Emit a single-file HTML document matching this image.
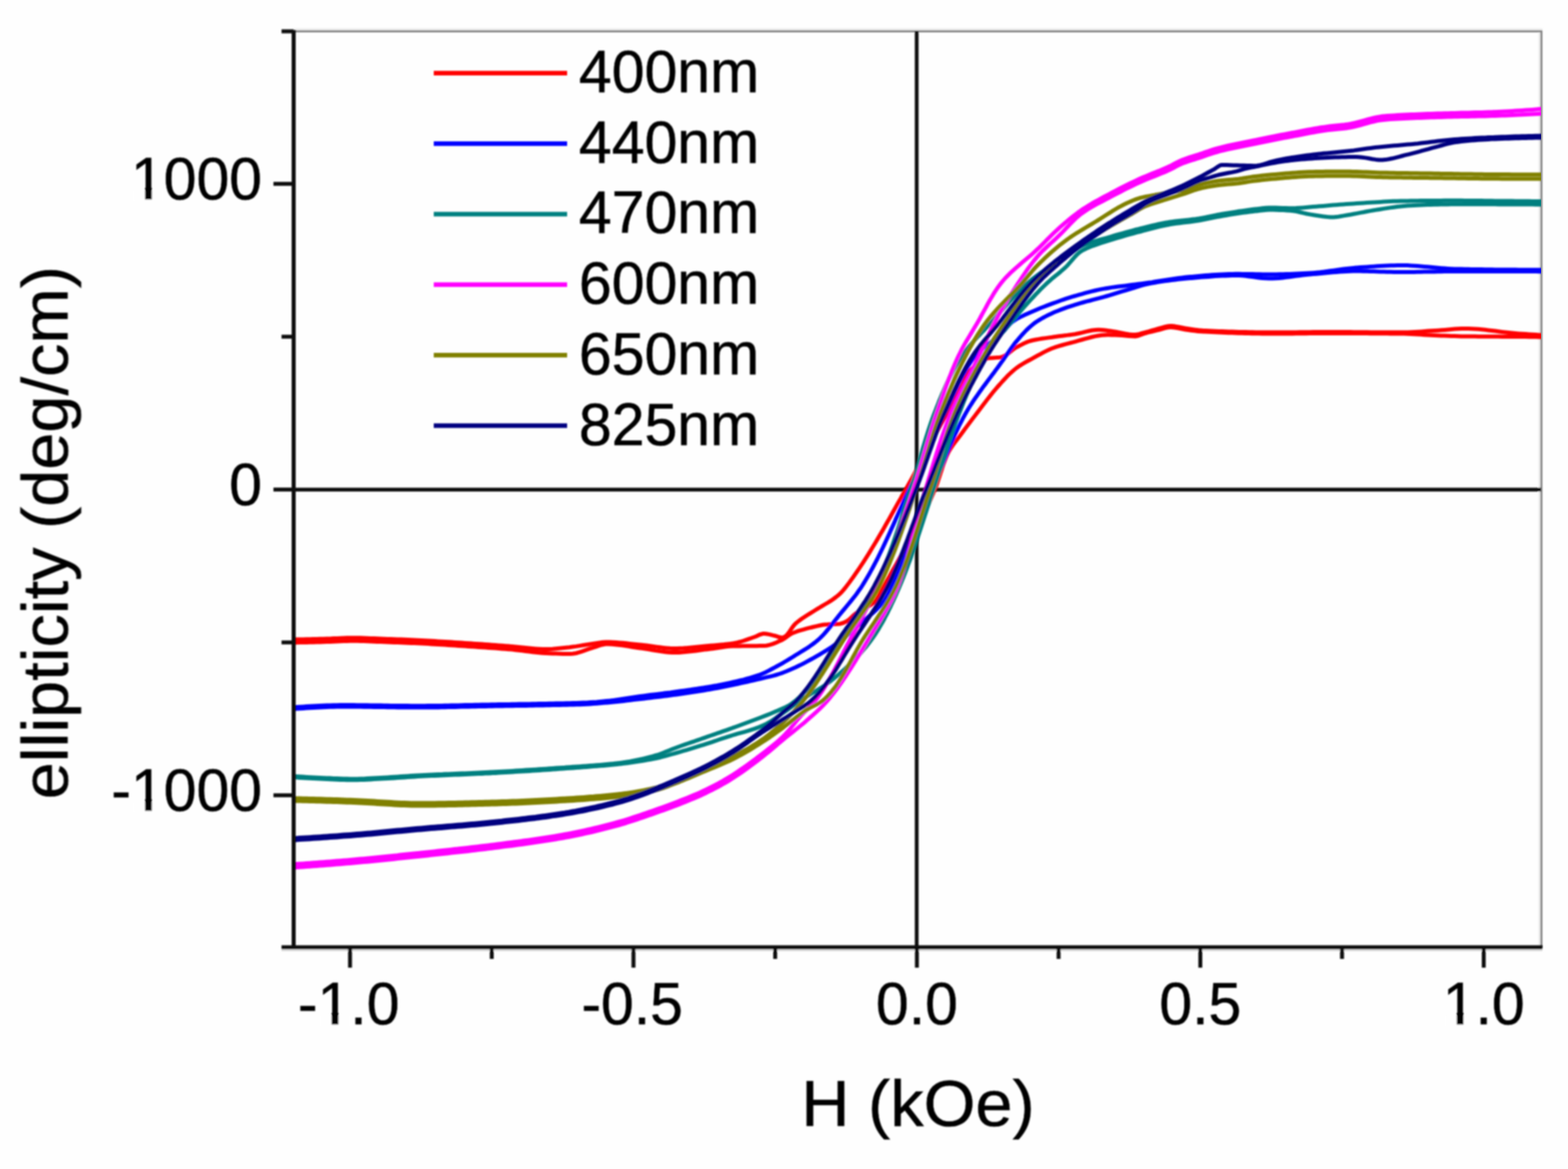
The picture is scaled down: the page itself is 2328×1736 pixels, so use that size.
<!DOCTYPE html>
<html lang="en">
<head>
<meta charset="utf-8">
<title>ellipticity vs H</title>
<style>
html,body{margin:0;padding:0;background:#fefefe;}
body{width:2328px;height:1736px;overflow:hidden;}
svg{display:block;}
text{font-family:"Liberation Sans",Arial,Helvetica,sans-serif;fill:#000;stroke:#000;stroke-width:0.7px;}
.tick{font-size:87.5px;}
.leg{font-size:87.5px;}
.ttl{font-size:99px;}
.crv{fill:none;stroke-width:6;stroke-linejoin:round;stroke-linecap:butt;}
</style>
</head>
<body>
<svg width="2328" height="1736" viewBox="0 0 2328 1736">
<rect x="0" y="0" width="2328" height="1736" fill="#fefefe"/>
<defs><clipPath id="plot"><rect x="436" y="46" width="1852" height="1361"/></clipPath>
<filter id="soft" x="-2%" y="-2%" width="104%" height="104%"><feGaussianBlur stdDeviation="0.9"/></filter></defs>

<g filter="url(#soft)">
<rect x="436" y="45" width="1854" height="3" fill="#808080"/>
<rect x="436" y="42" width="1854" height="3" fill="#ededed"/>
<rect x="2287" y="45" width="3" height="1362" fill="#808080"/>
<rect x="2284" y="48" width="3" height="1356" fill="#ededed"/>
<rect x="436" y="724.3" width="1852" height="5.6" fill="#0a0a0a"/>
<rect x="1358.2" y="46" width="5.6" height="1361" fill="#0a0a0a"/>
</g>
<g clip-path="url(#plot)" filter="url(#soft)">
<polyline class="crv" stroke="#ff0000" points="430.0,949.7 435.0,949.6 440.0,949.6 445.0,949.5 450.0,949.4 455.1,949.3 460.1,949.2 465.1,949.1 470.1,948.9 475.1,948.8 480.0,948.7 480.1,948.7 485.1,948.5 490.1,948.4 495.1,948.1 500.2,947.9 505.2,947.7 510.2,947.5 515.2,947.3 520.2,947.2 525.0,947.2 525.2,947.2 530.2,947.2 535.2,947.3 540.2,947.5 545.2,947.7 550.3,947.9 555.3,948.1 560.3,948.3 565.3,948.5 570.0,948.7 570.3,948.7 575.3,948.9 580.3,949.1 585.3,949.3 590.3,949.4 595.3,949.6 600.3,949.8 605.4,950.0 610.4,950.3 615.4,950.5 620.0,950.7 620.4,950.7 625.4,951.0 630.4,951.2 635.4,951.5 640.4,951.8 645.4,952.1 650.4,952.4 655.4,952.7 660.4,953.0 665.4,953.3 670.4,953.6 675.4,953.9 680.4,954.3 685.4,954.6 690.4,954.9 695.4,955.3 700.4,955.6 702.0,955.7 705.4,955.9 710.4,956.3 715.4,956.6 720.4,957.0 725.4,957.3 730.4,957.7 735.4,958.1 740.4,958.4 745.4,958.8 750.4,959.2 755.4,959.6 757.0,959.7 760.4,960.0 765.4,960.4 770.4,960.9 775.4,961.5 780.4,962.0 785.4,962.5 790.4,963.0 795.4,963.4 800.4,963.7 805.4,963.9 810.4,964.0 811.0,964.0 815.4,963.9 820.4,963.7 825.4,963.3 830.4,962.8 835.4,962.3 840.4,961.7 845.4,961.2 847.0,961.0 850.3,960.6 855.3,959.9 860.2,959.1 865.2,958.3 870.1,957.5 875.1,956.7 880.0,956.0 880.1,956.0 885.0,955.3 890.0,954.5 895.0,953.8 900.0,953.5 901.0,953.5 904.9,953.5 909.9,953.7 914.9,954.0 919.9,954.4 924.9,954.8 929.9,955.3 934.9,955.9 939.9,956.4 944.9,956.9 949.9,957.4 950.8,957.5 954.9,957.9 959.9,958.5 964.9,959.2 969.9,959.9 974.8,960.6 979.8,961.3 984.8,961.9 989.8,962.4 994.8,962.8 999.8,963.0 1001.7,963.0 1004.7,963.0 1009.7,962.8 1014.7,962.6 1019.7,962.2 1024.7,961.8 1029.7,961.3 1034.7,960.8 1039.7,960.3 1044.7,959.8 1049.7,959.3 1052.6,959.0 1054.7,958.8 1059.7,958.4 1064.7,958.0 1069.8,957.5 1074.8,957.1 1079.8,956.5 1084.7,955.9 1089.0,955.3 1089.6,955.2 1094.5,954.2 1099.3,953.0 1104.1,951.5 1108.9,949.8 1113.7,948.2 1118.4,946.5 1120.0,946.0 1123.2,944.7 1127.8,942.5 1132.6,941.1 1134.0,941.0 1137.4,941.2 1142.4,942.1 1147.3,943.4 1150.0,944.0 1152.3,944.6 1157.3,946.3 1161.0,947.0 1161.7,947.0 1165.6,945.4 1169.0,942.1 1172.3,937.7 1175.5,932.9 1178.9,928.4 1181.8,925.4 1182.6,924.8 1186.4,921.7 1190.5,918.8 1194.7,916.0 1198.9,913.3 1203.2,910.6 1207.5,908.0 1211.8,905.3 1214.5,903.6 1216.0,902.7 1220.3,900.1 1224.7,897.5 1229.0,895.0 1233.2,892.4 1236.0,890.5 1237.4,889.5 1241.4,886.5 1245.3,883.4 1247.0,881.8 1248.9,879.9 1252.2,876.2 1255.5,872.3 1258.5,868.3 1261.0,865.0 1261.5,864.3 1264.4,860.3 1267.3,856.2 1270.2,852.1 1273.0,848.0 1275.8,843.9 1278.6,839.7 1281.3,835.6 1284.0,831.4 1286.7,827.1 1289.4,822.9 1292.0,818.6 1294.6,814.3 1297.2,810.0 1299.8,805.7 1302.4,801.4 1304.9,797.1 1307.4,792.7 1310.0,788.4 1312.5,784.0 1315.0,779.6 1317.4,775.2 1319.9,770.9 1322.4,766.5 1324.9,762.1 1327.3,757.7 1329.8,753.3 1332.2,748.9 1334.7,744.5 1337.2,740.2 1339.6,735.8 1342.1,731.4 1344.6,727.1 1344.6,727.0 1347.0,722.7 1349.5,718.3 1351.9,714.0 1354.3,709.6 1356.7,705.2 1359.1,700.8 1361.5,696.3 1363.8,691.9 1366.2,687.5 1368.6,683.1 1370.9,678.6 1373.3,674.2 1375.6,669.8 1378.0,665.4 1380.3,660.9 1382.7,656.5 1385.0,652.1 1387.4,647.7 1389.8,643.2 1391.0,641.0 1392.2,638.8 1394.6,634.5 1397.0,630.1 1399.5,625.7 1402.0,621.3 1404.4,617.0 1406.9,612.6 1409.4,608.2 1411.8,603.8 1414.3,599.5 1416.7,595.1 1419.1,590.7 1421.4,586.3 1423.8,581.8 1426.0,577.4 1428.3,572.9 1429.0,571.4 1430.4,568.3 1432.3,563.6 1434.3,559.0 1436.0,556.0 1436.8,554.8 1439.8,550.9 1443.4,547.2 1447.2,543.7 1451.1,540.6 1452.0,540.0 1455.2,537.7 1459.6,534.9 1464.1,532.7 1467.0,532.0 1468.9,531.8 1473.9,531.4 1479.1,531.1 1484.1,530.7 1486.0,530.5 1488.6,529.8 1492.9,527.7 1497.1,524.7 1501.2,521.4 1505.3,518.1 1509.0,515.8 1509.6,515.5 1514.1,513.1 1518.6,510.8 1523.2,508.6 1527.8,506.8 1530.7,506.0 1532.6,505.5 1537.4,504.5 1542.3,503.6 1547.3,502.8 1552.3,502.1 1557.3,501.4 1562.3,500.7 1563.4,500.5 1567.2,500.0 1572.2,499.3 1577.2,498.7 1582.2,498.1 1587.1,497.4 1592.1,496.8 1596.0,496.2 1597.1,496.0 1602.0,495.0 1606.9,493.9 1611.8,492.6 1616.7,491.5 1621.7,490.5 1626.6,489.9 1630.5,489.7 1631.5,489.7 1636.5,490.0 1641.5,490.6 1646.5,491.2 1648.7,491.5 1651.5,491.9 1656.5,492.7 1661.4,493.7 1666.4,494.7 1671.4,495.6 1676.3,496.4 1681.2,496.9 1685.0,497.0 1686.2,497.0 1691.1,496.1 1696.0,494.7 1700.0,493.6 1700.8,493.4 1705.7,492.1 1710.5,490.7 1715.3,489.3 1720.0,488.0 1720.1,488.0 1725.0,486.6 1729.9,485.2 1734.8,484.2 1738.0,484.0 1739.7,484.0 1744.6,484.6 1749.6,485.5 1754.6,486.5 1759.5,487.4 1760.0,487.5 1764.5,488.2 1769.4,488.9 1774.4,489.6 1779.4,490.3 1784.4,490.7 1787.0,490.9 1789.4,491.0 1794.4,491.3 1799.4,491.5 1804.4,491.7 1809.4,491.9 1814.4,492.1 1819.4,492.3 1824.4,492.5 1829.4,492.6 1834.4,492.8 1839.4,492.9 1844.4,493.0 1849.5,493.1 1854.5,493.3 1859.5,493.3 1864.5,493.4 1869.5,493.5 1874.5,493.5 1879.6,493.6 1884.6,493.6 1889.6,493.6 1890.6,493.6 1894.6,493.6 1899.6,493.6 1904.6,493.6 1909.6,493.5 1914.7,493.5 1919.7,493.4 1924.7,493.4 1929.7,493.3 1934.7,493.3 1939.7,493.2 1944.7,493.2 1949.7,493.1 1954.8,493.1 1959.8,493.0 1964.8,493.0 1969.8,493.0 1972.4,493.0 1974.8,493.0 1979.8,493.0 1984.8,493.0 1989.8,493.0 1994.9,493.1 1999.9,493.1 2004.9,493.1 2009.9,493.2 2014.9,493.2 2019.9,493.2 2024.9,493.3 2029.9,493.3 2035.0,493.4 2040.0,493.4 2045.0,493.4 2050.0,493.5 2055.0,493.5 2060.0,493.5 2065.0,493.6 2070.0,493.6 2075.1,493.6 2080.1,493.6 2081.3,493.6 2085.1,493.6 2090.1,493.5 2095.1,493.3 2100.1,493.0 2105.1,492.7 2110.1,492.4 2115.1,492.0 2120.1,491.6 2125.1,491.3 2130.0,491.0 2130.1,491.0 2135.1,490.7 2140.1,490.3 2145.1,489.9 2150.1,489.4 2155.1,489.0 2160.1,488.6 2165.1,488.3 2170.1,488.1 2175.1,488.0 2176.6,488.0 2180.1,488.0 2185.1,488.2 2190.1,488.5 2195.1,488.8 2200.1,489.3 2205.1,489.8 2210.1,490.4 2215.1,491.0 2220.0,491.6 2225.0,492.3 2230.0,492.9 2235.0,493.5 2240.0,494.1 2245.0,494.6 2250.0,495.0 2250.0,495.0 2255.0,495.4 2260.0,495.7 2265.0,496.1 2270.0,496.5 2275.0,496.8 2280.0,497.1 2285.0,497.4 2290.0,497.7 2295.0,498.0"/>
<polyline class="crv" stroke="#ff0000" points="430.0,954.3 435.0,954.2 440.0,954.2 445.0,954.1 450.1,954.0 455.1,953.9 460.1,953.8 465.1,953.7 470.1,953.5 475.1,953.4 480.0,953.3 480.1,953.3 485.1,953.1 490.2,953.0 495.2,952.7 500.2,952.5 505.2,952.3 510.2,952.1 515.2,951.9 520.2,951.8 525.0,951.8 525.2,951.8 530.2,951.8 535.3,951.9 540.3,952.1 545.3,952.3 550.3,952.5 555.3,952.7 560.3,952.9 565.3,953.1 570.0,953.3 570.3,953.3 575.3,953.5 580.4,953.7 585.4,953.9 590.4,954.1 595.4,954.2 600.4,954.4 605.4,954.7 610.4,954.9 615.4,955.1 620.0,955.3 620.4,955.3 625.4,955.6 630.4,955.8 635.4,956.1 640.5,956.4 645.5,956.7 650.5,957.0 655.5,957.3 660.5,957.6 665.5,957.9 670.5,958.2 675.5,958.5 680.5,958.9 685.5,959.2 690.5,959.5 695.5,959.9 700.5,960.2 702.0,960.3 705.5,960.5 710.5,960.9 715.5,961.2 720.5,961.5 725.5,961.9 730.5,962.2 735.5,962.6 740.5,963.0 745.5,963.4 750.5,963.8 755.5,964.2 757.0,964.3 760.5,964.6 765.5,965.2 770.5,965.7 775.5,966.4 780.4,967.0 785.4,967.6 790.4,968.2 795.4,968.8 800.4,969.3 805.4,969.7 810.4,970.0 811.0,970.0 815.4,970.2 820.4,970.4 825.4,970.6 830.5,970.7 835.5,970.9 840.5,971.0 845.5,971.0 847.0,971.0 850.4,970.8 855.3,970.0 860.1,968.7 864.9,967.1 869.7,965.4 874.5,963.7 879.4,962.2 880.0,962.0 884.2,960.7 889.0,959.0 893.9,957.5 898.7,956.6 901.0,956.5 903.6,956.5 908.6,956.8 913.5,957.2 918.5,957.7 923.5,958.4 928.5,959.1 933.5,959.9 938.5,960.7 943.5,961.5 948.5,962.2 950.8,962.5 953.5,962.8 958.4,963.6 963.4,964.4 968.4,965.2 973.3,966.1 978.3,966.9 983.3,967.6 988.3,968.2 993.2,968.7 998.2,968.9 1001.7,969.0 1003.2,969.0 1008.2,968.9 1013.2,968.6 1018.2,968.1 1023.1,967.6 1028.1,967.0 1033.1,966.4 1038.1,965.7 1043.1,965.1 1048.1,964.4 1052.0,964.0 1053.1,963.9 1058.1,963.2 1063.0,962.5 1068.0,961.7 1073.0,961.0 1078.0,960.3 1082.9,959.8 1087.9,959.5 1089.0,959.5 1092.9,959.4 1098.0,959.4 1103.0,959.3 1108.1,959.3 1113.1,959.3 1118.2,959.2 1123.2,959.2 1128.1,959.1 1133.1,959.0 1134.0,959.0 1138.0,958.7 1142.9,957.6 1147.7,956.1 1152.5,954.2 1157.2,952.1 1161.0,950.4 1161.7,950.1 1165.9,947.4 1170.0,944.3 1174.2,941.5 1176.0,940.6 1178.6,939.5 1183.3,937.7 1188.1,936.2 1192.9,934.8 1197.8,933.4 1202.7,932.2 1203.6,932.0 1207.6,931.0 1212.5,929.8 1217.4,928.7 1222.3,927.8 1225.4,927.5 1227.3,927.4 1232.3,927.1 1237.4,927.0 1242.4,926.7 1247.0,926.4 1247.3,926.4 1252.1,925.0 1256.7,922.7 1258.0,922.0 1260.8,920.0 1264.5,916.5 1268.1,913.0 1269.0,912.3 1272.2,910.0 1276.6,907.4 1281.2,904.9 1285.8,902.4 1290.2,899.9 1294.3,897.2 1298.0,894.2 1299.4,892.7 1301.0,890.6 1303.6,886.4 1306.0,881.8 1308.3,877.2 1309.0,876.0 1310.8,872.8 1313.2,868.5 1315.7,864.1 1318.2,859.7 1320.7,855.4 1323.1,851.0 1325.6,846.6 1328.1,842.3 1330.6,837.9 1333.1,833.5 1335.6,829.1 1338.1,824.8 1340.6,820.4 1343.1,816.0 1345.5,811.6 1348.0,807.2 1350.4,802.8 1352.9,798.4 1355.3,794.0 1357.6,789.6 1360.0,785.2 1362.4,780.7 1364.7,776.3 1367.0,771.8 1369.3,767.4 1371.5,762.9 1373.7,758.4 1375.9,753.9 1378.0,749.4 1380.1,744.9 1382.2,740.3 1384.2,735.8 1386.2,731.2 1388.0,727.0 1388.2,726.6 1390.0,722.0 1391.7,717.2 1393.3,712.4 1394.9,707.6 1396.4,702.8 1398.0,698.0 1399.5,693.1 1401.1,688.4 1402.9,683.7 1404.7,679.1 1406.7,674.6 1407.8,672.3 1408.9,670.2 1411.4,666.0 1414.2,661.8 1417.2,657.7 1420.3,653.7 1423.3,649.7 1426.4,645.6 1426.8,645.0 1429.3,641.6 1432.3,637.5 1435.3,633.5 1438.3,629.5 1441.3,625.5 1444.3,621.5 1447.4,617.5 1450.4,613.5 1451.3,612.4 1453.5,609.5 1456.5,605.5 1459.5,601.5 1462.6,597.5 1465.6,593.5 1468.7,589.6 1471.8,585.6 1475.0,581.7 1478.2,577.9 1481.3,574.3 1481.4,574.1 1484.8,570.4 1488.1,566.6 1491.6,562.9 1495.0,559.2 1498.6,555.6 1502.3,552.2 1506.0,549.0 1508.5,547.0 1509.9,545.9 1514.0,543.1 1518.2,540.5 1522.6,537.9 1527.0,535.5 1531.5,533.1 1535.8,530.7 1535.9,530.7 1540.3,528.2 1544.7,525.8 1549.1,523.4 1553.6,521.1 1558.1,519.0 1562.7,517.1 1563.0,517.0 1567.4,515.4 1572.2,513.9 1577.0,512.5 1581.9,511.1 1586.7,509.8 1590.0,509.0 1591.6,508.6 1596.4,507.3 1601.3,505.9 1606.2,504.5 1611.1,503.1 1616.0,501.8 1620.9,500.5 1625.8,499.4 1630.7,498.5 1635.6,497.8 1640.6,497.4 1644.7,497.3 1645.5,497.3 1650.5,497.4 1655.6,497.6 1660.6,497.8 1665.0,498.0 1665.6,498.0 1670.6,498.4 1675.7,498.9 1680.7,499.3 1685.0,499.5 1685.6,499.5 1690.4,498.5 1695.2,496.7 1700.0,495.0 1700.0,495.0 1704.8,493.7 1709.7,492.5 1714.6,491.3 1719.4,490.1 1720.0,490.0 1724.3,488.8 1729.2,487.4 1734.1,486.3 1738.0,486.0 1739.0,486.0 1744.0,486.5 1748.9,487.4 1753.9,488.4 1758.8,489.3 1760.0,489.5 1763.8,490.0 1768.8,490.7 1773.8,491.3 1778.7,491.9 1783.7,492.3 1787.0,492.5 1788.7,492.6 1793.7,492.8 1798.7,493.1 1803.7,493.3 1808.7,493.5 1813.7,493.8 1818.7,494.0 1823.8,494.2 1828.8,494.3 1833.8,494.5 1838.8,494.7 1843.8,494.8 1848.8,495.0 1853.9,495.1 1858.9,495.2 1863.9,495.3 1868.9,495.3 1873.9,495.4 1878.9,495.5 1884.0,495.5 1889.0,495.5 1890.6,495.5 1894.0,495.5 1899.0,495.5 1904.0,495.5 1909.0,495.4 1914.0,495.4 1919.0,495.4 1924.1,495.3 1929.1,495.3 1934.1,495.2 1939.1,495.2 1944.1,495.1 1949.1,495.1 1954.1,495.1 1959.2,495.0 1964.2,495.0 1969.2,495.0 1972.4,495.0 1974.2,495.0 1979.2,495.0 1984.2,495.0 1989.2,495.0 1994.3,495.0 1999.3,495.0 2004.3,495.0 2009.3,495.1 2014.3,495.1 2019.3,495.1 2024.4,495.1 2029.4,495.1 2034.4,495.2 2039.4,495.2 2044.4,495.2 2049.4,495.2 2054.4,495.3 2059.4,495.3 2064.5,495.4 2069.5,495.4 2074.5,495.4 2079.5,495.5 2081.3,495.5 2084.5,495.5 2089.5,495.7 2094.5,495.9 2099.5,496.2 2104.5,496.5 2109.5,496.8 2114.5,497.2 2119.6,497.5 2124.6,497.7 2129.6,498.0 2130.0,498.0 2134.6,498.2 2139.6,498.4 2144.6,498.6 2149.6,498.8 2154.6,499.0 2159.6,499.1 2164.6,499.3 2169.7,499.4 2174.7,499.5 2176.6,499.5 2179.7,499.5 2184.7,499.6 2189.7,499.6 2194.7,499.7 2199.7,499.7 2204.8,499.7 2209.8,499.8 2214.8,499.8 2219.8,499.8 2224.8,499.8 2229.8,499.9 2234.8,499.9 2239.8,499.9 2244.9,500.0 2249.9,500.0 2250.0,500.0 2254.9,500.0 2259.9,500.1 2264.9,500.1 2269.9,500.2 2274.9,500.3 2280.0,500.3 2285.0,500.4 2290.0,500.4 2295.0,500.5"/>
<polyline class="crv" stroke="#0000ff" points="430.0,1050.8 435.0,1050.5 440.0,1050.1 445.0,1049.8 450.0,1049.5 455.0,1049.1 460.0,1048.8 465.0,1048.6 470.0,1048.3 475.1,1048.0 480.1,1047.8 485.1,1047.6 490.1,1047.4 495.1,1047.3 500.1,1047.2 505.1,1047.1 510.1,1047.1 511.7,1047.1 515.1,1047.1 520.1,1047.1 525.1,1047.1 530.1,1047.2 535.2,1047.2 540.2,1047.3 545.2,1047.3 550.2,1047.4 555.2,1047.5 560.2,1047.6 565.2,1047.6 570.2,1047.7 575.3,1047.8 580.3,1047.9 585.3,1047.9 590.3,1048.0 595.3,1048.0 600.3,1048.1 605.3,1048.1 610.3,1048.2 615.4,1048.2 620.4,1048.2 620.6,1048.2 625.4,1048.2 630.4,1048.2 635.4,1048.1 640.4,1048.1 645.4,1048.0 650.4,1048.0 655.4,1047.9 660.5,1047.8 665.5,1047.7 670.5,1047.6 675.5,1047.5 680.5,1047.4 685.5,1047.3 690.5,1047.1 695.5,1047.0 700.5,1046.9 705.6,1046.8 710.6,1046.7 715.6,1046.6 720.6,1046.5 725.6,1046.4 729.6,1046.3 730.6,1046.3 735.6,1046.2 740.6,1046.1 745.6,1046.0 750.7,1046.0 755.7,1045.9 760.7,1045.8 765.7,1045.7 770.7,1045.6 775.7,1045.5 780.7,1045.5 785.7,1045.4 790.7,1045.3 795.8,1045.2 800.0,1045.1 800.8,1045.1 805.8,1045.0 810.8,1044.9 815.8,1044.8 820.8,1044.7 825.8,1044.6 830.8,1044.5 835.9,1044.4 840.9,1044.3 845.9,1044.2 850.9,1044.1 855.9,1043.9 860.9,1043.8 865.8,1043.6 865.9,1043.6 870.9,1043.4 875.9,1043.1 880.9,1042.7 885.9,1042.4 890.9,1041.9 895.9,1041.5 900.0,1041.1 900.9,1041.0 905.9,1040.5 910.8,1039.9 915.8,1039.2 920.8,1038.5 925.7,1037.8 930.7,1037.0 935.6,1036.2 940.6,1035.5 945.6,1034.7 950.5,1034.0 950.8,1034.0 955.5,1033.4 960.5,1032.7 965.4,1032.1 970.4,1031.5 975.4,1030.9 980.4,1030.3 985.3,1029.6 990.3,1029.0 995.3,1028.4 1000.2,1027.7 1001.7,1027.5 1005.2,1027.0 1010.2,1026.3 1015.1,1025.7 1020.1,1025.0 1025.1,1024.3 1030.0,1023.5 1035.0,1022.8 1039.9,1022.0 1044.9,1021.3 1049.8,1020.4 1052.5,1020.0 1054.8,1019.6 1059.7,1018.7 1064.6,1017.9 1069.6,1016.9 1074.5,1016.0 1079.4,1015.0 1084.3,1013.9 1089.2,1012.8 1090.6,1012.5 1094.1,1011.7 1099.0,1010.5 1103.9,1009.3 1108.7,1008.0 1113.6,1006.7 1118.4,1005.2 1123.1,1003.7 1127.8,1002.1 1128.8,1001.7 1132.4,1000.2 1137.0,998.2 1141.5,995.9 1145.9,993.5 1150.4,991.1 1154.2,989.0 1154.8,988.7 1159.1,986.3 1163.5,983.8 1167.8,981.2 1172.1,978.6 1176.4,976.0 1180.0,973.7 1180.6,973.3 1184.9,970.7 1189.2,968.0 1193.5,965.4 1197.8,962.7 1202.0,959.9 1206.1,957.0 1210.1,954.0 1213.9,950.9 1214.5,950.4 1217.5,947.6 1221.0,944.2 1224.4,940.5 1227.6,936.7 1230.9,932.8 1234.0,928.8 1237.1,924.8 1240.2,920.8 1243.4,916.8 1246.5,912.9 1247.0,912.3 1249.7,909.0 1252.9,905.2 1256.1,901.3 1259.4,897.4 1262.6,893.5 1265.7,889.6 1268.9,885.7 1271.9,881.7 1274.8,877.6 1277.7,873.6 1280.0,870.0 1280.4,869.4 1283.0,865.2 1285.5,861.0 1288.0,856.7 1290.5,852.4 1292.9,848.1 1295.3,843.7 1297.7,839.3 1300.0,834.9 1302.3,830.5 1304.5,826.0 1306.7,821.5 1308.9,817.0 1311.1,812.5 1313.2,807.9 1315.4,803.3 1317.5,798.8 1319.6,794.2 1321.7,789.6 1323.7,785.0 1325.8,780.4 1327.9,775.8 1329.9,771.1 1332.0,766.5 1334.0,761.9 1336.1,757.3 1338.2,752.7 1340.2,748.1 1342.3,743.5 1344.4,739.0 1346.5,734.4 1348.7,729.8 1350.0,727.0 1350.8,725.3 1352.9,720.8 1355.1,716.2 1357.2,711.7 1359.3,707.1 1361.4,702.6 1363.4,698.0 1365.5,693.5 1367.6,688.9 1369.7,684.3 1371.7,679.8 1373.8,675.2 1375.9,670.6 1377.9,666.1 1380.0,661.5 1382.1,656.9 1384.2,652.4 1386.3,647.8 1388.4,643.3 1390.5,638.7 1392.7,634.2 1394.8,629.7 1397.0,625.2 1399.2,620.7 1401.0,617.0 1401.4,616.2 1403.6,611.7 1405.8,607.1 1407.9,602.5 1410.1,597.9 1412.2,593.2 1414.3,588.5 1416.5,583.9 1418.6,579.2 1420.8,574.6 1423.0,570.0 1425.3,565.5 1427.6,561.0 1429.9,556.5 1432.4,552.2 1434.8,547.9 1437.4,543.7 1440.1,539.6 1442.8,535.6 1445.7,531.7 1447.0,530.0 1448.6,528.0 1451.9,524.4 1455.4,521.0 1459.1,517.7 1463.0,514.5 1467.0,511.3 1471.0,508.1 1475.0,505.0 1479.0,501.8 1483.0,498.5 1486.7,495.2 1489.0,493.0 1490.3,491.7 1493.7,487.8 1497.0,483.9 1500.4,480.3 1503.5,477.6 1504.1,477.2 1508.2,474.5 1512.5,472.0 1517.0,469.7 1521.6,467.6 1526.3,465.5 1530.7,463.5 1530.9,463.4 1535.5,461.4 1540.1,459.4 1544.7,457.5 1549.4,455.7 1554.1,453.9 1558.8,452.1 1563.4,450.4 1563.5,450.4 1568.2,448.7 1572.9,447.0 1577.6,445.3 1582.4,443.7 1587.2,442.2 1591.9,440.7 1596.0,439.5 1596.7,439.3 1601.6,437.9 1606.4,436.6 1611.2,435.2 1616.1,433.9 1621.0,432.7 1625.8,431.5 1630.7,430.4 1635.6,429.4 1640.0,428.6 1640.5,428.5 1645.5,427.7 1650.4,426.9 1655.4,426.2 1660.4,425.6 1665.3,425.0 1670.3,424.4 1675.3,423.7 1680.3,423.1 1685.0,422.5 1685.2,422.5 1690.2,421.8 1695.2,421.1 1700.0,420.5 1700.2,420.5 1705.1,419.8 1710.1,419.1 1715.0,418.3 1720.0,417.5 1725.0,416.7 1729.9,416.0 1734.9,415.2 1739.8,414.4 1744.8,413.7 1749.8,413.0 1754.7,412.4 1759.7,411.8 1764.7,411.3 1768.0,411.0 1769.7,410.9 1774.6,410.4 1779.6,410.0 1784.6,409.6 1789.6,409.1 1794.6,408.7 1799.6,408.3 1804.6,408.0 1809.6,407.7 1814.7,407.4 1819.7,407.2 1824.7,407.0 1829.7,406.9 1834.7,406.8 1836.2,406.8 1839.7,406.8 1844.7,406.9 1849.7,406.9 1854.7,407.0 1859.7,407.1 1864.8,407.2 1869.8,407.3 1874.8,407.4 1879.8,407.5 1884.8,407.5 1885.0,407.5 1889.8,407.5 1894.8,407.4 1899.8,407.3 1904.9,407.2 1909.9,407.1 1914.9,406.9 1919.9,406.7 1924.9,406.5 1929.9,406.2 1934.9,406.0 1939.9,405.8 1944.9,405.5 1945.0,405.5 1949.9,405.2 1954.9,404.8 1959.9,404.3 1964.8,403.7 1969.8,403.0 1974.8,402.3 1979.8,401.6 1984.7,400.9 1989.7,400.2 1994.7,399.6 1999.7,398.9 2004.6,398.4 2009.6,397.9 2013.2,397.6 2014.6,397.5 2019.6,397.1 2024.6,396.8 2029.6,396.4 2034.6,396.0 2039.6,395.7 2044.6,395.3 2049.6,395.0 2054.6,394.8 2059.7,394.5 2064.7,394.3 2069.7,394.2 2074.7,394.1 2079.7,394.0 2081.3,394.0 2084.7,394.0 2089.7,394.1 2094.7,394.4 2099.7,394.7 2104.7,395.0 2109.7,395.4 2114.7,395.9 2119.7,396.3 2124.7,396.8 2129.7,397.3 2134.7,397.8 2139.7,398.2 2144.7,398.6 2149.7,398.9 2154.7,399.2 2159.7,399.4 2163.0,399.5 2164.7,399.5 2169.7,399.6 2174.7,399.7 2179.7,399.8 2184.7,399.9 2189.7,399.9 2194.7,400.0 2199.7,400.1 2204.8,400.2 2209.8,400.2 2214.8,400.3 2219.8,400.4 2224.8,400.4 2229.8,400.5 2234.8,400.5 2239.8,400.6 2244.8,400.6 2249.9,400.6 2254.9,400.7 2259.9,400.7 2264.9,400.7 2269.9,400.7 2274.9,400.8 2279.9,400.8 2285.0,400.8 2290.0,400.8 2295.0,400.8"/>
<polyline class="crv" stroke="#0000ff" points="430.0,1053.2 435.0,1052.9 440.0,1052.5 445.0,1052.2 450.0,1051.9 455.0,1051.5 460.0,1051.2 465.1,1051.0 470.1,1050.7 475.1,1050.4 480.1,1050.2 485.1,1050.0 490.1,1049.8 495.1,1049.7 500.1,1049.6 505.1,1049.5 510.1,1049.5 511.7,1049.5 515.2,1049.5 520.2,1049.5 525.2,1049.5 530.2,1049.6 535.2,1049.6 540.2,1049.7 545.2,1049.7 550.2,1049.8 555.3,1049.9 560.3,1050.0 565.3,1050.0 570.3,1050.1 575.3,1050.2 580.3,1050.3 585.4,1050.3 590.4,1050.4 595.4,1050.5 600.4,1050.5 605.4,1050.5 610.4,1050.6 615.4,1050.6 620.5,1050.6 620.6,1050.6 625.5,1050.6 630.5,1050.6 635.5,1050.5 640.5,1050.5 645.5,1050.4 650.5,1050.4 655.5,1050.3 660.6,1050.2 665.6,1050.1 670.6,1050.0 675.6,1049.9 680.6,1049.8 685.6,1049.6 690.6,1049.5 695.7,1049.4 700.7,1049.3 705.7,1049.2 710.7,1049.1 715.7,1049.0 720.7,1048.9 725.7,1048.8 729.6,1048.7 730.7,1048.7 735.8,1048.6 740.8,1048.5 745.8,1048.4 750.8,1048.3 755.8,1048.3 760.8,1048.2 765.8,1048.1 770.9,1048.0 775.9,1047.9 780.9,1047.9 785.9,1047.8 790.9,1047.7 795.9,1047.6 800.0,1047.5 800.9,1047.5 805.9,1047.4 811.0,1047.3 816.0,1047.2 821.0,1047.1 826.0,1047.0 831.0,1046.9 836.0,1046.8 841.1,1046.7 846.1,1046.6 851.1,1046.5 856.1,1046.3 861.1,1046.2 865.8,1046.0 866.1,1046.0 871.1,1045.8 876.1,1045.5 881.1,1045.1 886.1,1044.7 891.1,1044.3 896.1,1043.8 900.0,1043.5 901.1,1043.4 906.1,1042.9 911.1,1042.5 916.1,1042.0 921.1,1041.4 926.0,1040.9 931.0,1040.3 936.0,1039.7 941.0,1039.1 946.0,1038.6 950.8,1038.0 951.0,1038.0 955.9,1037.4 960.9,1036.8 965.9,1036.2 970.9,1035.6 975.9,1035.0 980.8,1034.4 985.8,1033.8 990.8,1033.2 995.8,1032.5 1000.7,1031.8 1001.7,1031.7 1005.7,1031.2 1010.7,1030.5 1015.6,1029.8 1020.6,1029.0 1025.5,1028.3 1030.5,1027.6 1035.5,1026.8 1040.4,1026.0 1045.4,1025.2 1050.3,1024.4 1052.5,1024.0 1055.2,1023.5 1060.2,1022.6 1065.1,1021.7 1070.0,1020.7 1074.9,1019.7 1079.9,1018.7 1084.8,1017.7 1089.7,1016.7 1090.6,1016.5 1094.6,1015.7 1099.5,1014.6 1104.4,1013.6 1109.3,1012.5 1114.2,1011.4 1119.1,1010.3 1124.0,1009.1 1128.8,1008.0 1128.8,1008.0 1133.7,1006.9 1138.6,1005.7 1143.5,1004.6 1148.4,1003.4 1153.2,1002.0 1154.2,1001.7 1157.9,1000.5 1162.7,998.8 1167.3,997.0 1172.0,995.0 1176.6,993.0 1180.0,991.5 1181.2,991.0 1185.7,988.8 1190.2,986.6 1192.7,985.3 1194.6,984.3 1199.1,981.9 1203.5,979.5 1207.9,977.1 1212.2,974.6 1216.6,972.1 1220.9,969.5 1225.2,966.9 1225.4,966.8 1229.4,964.3 1233.7,961.6 1236.0,960.0 1237.8,958.7 1241.8,955.8 1245.8,952.8 1249.7,949.7 1253.7,946.6 1257.5,943.4 1261.4,940.1 1265.2,936.9 1269.0,933.6 1272.8,930.3 1276.6,927.0 1280.3,923.6 1281.0,923.0 1284.1,920.3 1287.9,917.0 1291.8,913.7 1295.7,910.4 1299.5,907.0 1303.1,903.5 1306.6,899.9 1309.8,896.2 1312.5,892.7 1312.8,892.3 1315.4,888.2 1317.8,883.8 1320.1,879.3 1322.3,874.7 1324.4,870.1 1324.5,870.0 1326.6,865.6 1328.7,861.1 1330.8,856.5 1332.8,852.0 1334.9,847.4 1336.9,842.8 1338.9,838.2 1340.8,833.6 1342.7,829.0 1344.7,824.3 1346.6,819.7 1348.5,815.0 1350.3,810.4 1352.2,805.7 1354.0,801.1 1355.9,796.4 1357.7,791.7 1359.6,787.0 1361.4,782.4 1363.3,777.7 1365.1,773.0 1366.9,768.3 1368.8,763.7 1370.6,759.0 1372.5,754.4 1374.4,749.7 1376.3,745.0 1378.2,740.4 1380.1,735.8 1382.0,731.1 1383.8,727.0 1384.0,726.5 1386.0,721.9 1387.9,717.3 1389.8,712.6 1391.7,708.0 1393.6,703.3 1395.5,698.6 1397.4,693.9 1399.3,689.3 1401.2,684.6 1403.1,679.9 1405.0,675.2 1406.9,670.6 1408.9,665.9 1410.8,661.3 1412.8,656.7 1414.8,652.1 1416.9,647.5 1419.0,643.0 1421.1,638.5 1423.2,634.0 1425.4,629.5 1427.7,625.1 1430.0,620.7 1432.0,617.0 1432.4,616.3 1434.8,612.0 1437.3,607.8 1439.9,603.5 1442.6,599.3 1445.3,595.2 1448.1,591.0 1451.0,586.9 1453.9,582.8 1456.8,578.7 1459.8,574.6 1462.8,570.6 1465.8,566.5 1468.8,562.5 1471.8,558.4 1474.9,554.4 1477.9,550.3 1480.9,546.3 1483.8,542.2 1486.8,538.1 1489.0,535.0 1489.7,534.0 1492.5,529.9 1495.4,525.7 1498.2,521.6 1501.1,517.4 1504.0,513.4 1507.0,509.4 1509.0,507.0 1510.2,505.6 1513.5,501.7 1516.8,497.9 1520.2,494.2 1523.7,490.5 1527.4,487.0 1531.1,483.7 1534.9,480.6 1536.0,479.8 1538.9,477.7 1543.1,475.1 1547.5,472.5 1551.9,470.1 1556.5,467.8 1561.0,465.7 1563.4,464.6 1565.6,463.6 1570.2,461.7 1574.9,459.9 1579.6,458.1 1584.3,456.4 1589.1,454.8 1593.9,453.3 1596.0,452.6 1598.6,451.8 1603.4,450.4 1608.3,449.0 1613.1,447.7 1618.0,446.5 1622.8,445.2 1627.7,443.9 1632.5,442.7 1637.4,441.3 1640.0,440.6 1642.2,440.0 1647.0,438.6 1651.8,437.1 1656.6,435.7 1661.4,434.2 1666.2,432.7 1671.0,431.3 1675.8,429.8 1680.6,428.3 1685.0,427.0 1685.4,426.9 1690.2,425.3 1695.0,423.8 1699.8,422.5 1700.0,422.5 1704.7,421.6 1709.6,420.6 1714.5,419.7 1719.4,418.9 1724.4,418.1 1729.4,417.4 1734.3,416.7 1739.3,416.0 1744.3,415.4 1749.3,414.8 1754.3,414.3 1759.3,413.8 1764.3,413.3 1768.0,413.0 1769.3,412.9 1774.3,412.5 1779.3,412.1 1784.3,411.6 1789.3,411.2 1794.3,410.9 1799.3,410.5 1804.3,410.1 1809.4,409.8 1814.4,409.6 1819.4,409.4 1824.4,409.2 1829.4,409.1 1834.4,409.0 1836.2,409.0 1839.4,409.1 1844.4,409.3 1849.4,409.8 1854.4,410.4 1859.4,411.1 1864.4,411.8 1869.4,412.4 1874.4,413.0 1879.3,413.3 1884.3,413.5 1885.0,413.5 1889.3,413.4 1894.3,413.2 1899.3,412.9 1904.3,412.4 1909.3,411.8 1914.3,411.2 1919.3,410.6 1924.2,409.9 1929.2,409.2 1934.2,408.6 1939.2,408.1 1944.2,407.6 1945.0,407.5 1949.2,407.1 1954.2,406.7 1959.2,406.2 1964.2,405.7 1969.2,405.2 1974.2,404.8 1979.2,404.3 1984.2,403.9 1989.2,403.5 1994.2,403.2 1999.2,402.9 2004.2,402.7 2009.2,402.6 2013.2,402.6 2014.2,402.6 2019.2,402.6 2024.2,402.7 2029.3,402.8 2034.3,402.9 2039.3,403.1 2044.3,403.2 2049.3,403.4 2054.3,403.5 2059.3,403.7 2064.4,403.8 2069.4,403.9 2074.4,404.0 2079.4,404.0 2081.3,404.0 2084.4,404.0 2089.4,404.0 2094.4,403.9 2099.4,403.9 2104.5,403.8 2109.5,403.7 2114.5,403.6 2119.5,403.5 2124.5,403.5 2129.5,403.4 2134.5,403.3 2139.6,403.2 2144.6,403.1 2149.6,403.1 2154.6,403.0 2159.6,403.0 2163.0,403.0 2164.6,403.0 2169.6,403.0 2174.7,403.0 2179.7,403.0 2184.7,403.0 2189.7,403.0 2194.7,403.0 2199.7,403.0 2204.7,403.0 2209.8,403.0 2214.8,403.0 2219.8,403.0 2224.8,403.0 2229.8,403.0 2234.8,403.0 2239.8,403.0 2244.9,403.0 2249.9,403.1 2254.9,403.1 2259.9,403.1 2264.9,403.1 2269.9,403.1 2274.9,403.1 2280.0,403.1 2285.0,403.2 2290.0,403.2 2295.0,403.2"/>
<polyline class="crv" stroke="#008080" points="430.0,1152.2 435.0,1152.6 440.0,1152.9 445.0,1153.3 450.0,1153.6 455.0,1153.9 460.0,1154.2 465.0,1154.5 470.0,1154.7 475.1,1155.0 480.0,1155.2 480.1,1155.2 485.1,1155.4 490.1,1155.6 495.1,1155.9 500.1,1156.1 505.1,1156.3 510.1,1156.5 515.1,1156.6 520.2,1156.7 525.2,1156.7 525.3,1156.7 530.2,1156.7 535.2,1156.5 540.2,1156.4 545.2,1156.1 550.2,1155.8 555.2,1155.6 560.2,1155.3 565.3,1155.0 570.0,1154.7 570.3,1154.7 575.3,1154.4 580.3,1154.1 585.3,1153.8 590.3,1153.5 595.3,1153.1 600.3,1152.8 605.3,1152.4 610.3,1152.1 615.3,1151.8 620.3,1151.5 620.6,1151.5 625.3,1151.3 630.3,1151.0 635.3,1150.8 640.3,1150.5 645.4,1150.3 650.4,1150.1 655.4,1149.9 660.4,1149.6 665.4,1149.4 670.4,1149.2 675.4,1149.0 680.4,1148.8 685.4,1148.6 690.5,1148.4 695.5,1148.2 700.5,1148.0 705.5,1147.8 710.5,1147.5 715.5,1147.3 720.5,1147.1 725.5,1146.8 729.6,1146.6 730.5,1146.6 735.5,1146.3 740.5,1146.0 745.6,1145.7 750.6,1145.4 755.6,1145.2 760.6,1144.9 765.6,1144.6 770.6,1144.3 775.6,1144.0 780.6,1143.6 785.6,1143.3 790.6,1143.0 795.6,1142.7 800.6,1142.3 805.6,1142.0 810.6,1141.7 815.6,1141.3 820.6,1141.0 825.6,1140.6 830.6,1140.3 835.6,1139.9 838.5,1139.7 840.6,1139.5 845.6,1139.2 850.7,1138.8 855.7,1138.5 860.7,1138.2 865.7,1137.8 870.7,1137.4 875.7,1137.1 880.7,1136.7 885.7,1136.3 890.7,1135.9 895.7,1135.5 900.7,1135.0 905.7,1134.5 910.7,1134.0 915.6,1133.4 920.2,1132.9 920.6,1132.9 925.5,1132.2 930.5,1131.4 935.5,1130.6 940.4,1129.7 945.4,1128.7 950.3,1127.7 955.2,1126.6 960.1,1125.4 965.0,1124.1 969.8,1122.9 974.6,1121.5 974.7,1121.5 979.3,1120.0 984.0,1118.2 988.7,1116.3 993.3,1114.4 998.0,1112.5 1000.0,1111.7 1002.7,1110.7 1007.4,1109.0 1012.1,1107.3 1016.8,1105.7 1021.6,1104.0 1026.3,1102.4 1031.1,1100.8 1035.8,1099.1 1040.5,1097.5 1043.6,1096.4 1045.3,1095.8 1050.0,1094.2 1054.7,1092.5 1059.5,1090.9 1064.2,1089.2 1069.0,1087.6 1073.7,1085.9 1078.4,1084.3 1083.1,1082.6 1087.0,1081.2 1087.9,1080.9 1092.6,1079.2 1097.3,1077.5 1102.0,1075.8 1106.7,1074.0 1111.4,1072.3 1116.1,1070.5 1120.8,1068.8 1125.5,1067.0 1130.2,1065.2 1130.7,1065.0 1134.9,1063.4 1139.5,1061.6 1144.2,1059.7 1148.8,1057.8 1153.4,1055.8 1154.2,1055.5 1158.1,1053.8 1162.7,1051.8 1167.3,1049.7 1171.7,1047.3 1173.0,1046.5 1175.7,1044.7 1179.6,1041.7 1183.4,1038.5 1187.1,1035.1 1190.7,1031.6 1194.2,1027.9 1197.7,1024.1 1201.1,1020.3 1204.5,1016.5 1207.8,1012.7 1209.5,1010.8 1211.2,1008.9 1214.4,1005.1 1217.6,1001.2 1220.0,998.0 1220.6,997.2 1223.4,993.1 1226.1,988.9 1228.7,984.6 1231.2,980.3 1233.7,975.9 1236.1,971.5 1238.5,967.1 1240.9,962.7 1243.4,958.3 1245.9,953.9 1248.4,949.6 1250.0,947.0 1251.1,945.3 1253.8,941.1 1256.6,936.9 1259.4,932.7 1262.3,928.6 1265.2,924.4 1268.2,920.3 1271.1,916.2 1274.1,912.1 1277.0,908.0 1279.9,903.8 1282.8,899.7 1285.6,895.5 1288.3,891.3 1291.0,887.1 1293.6,882.9 1296.0,878.6 1298.4,874.2 1300.5,870.0 1300.6,869.8 1302.7,865.4 1304.8,860.9 1306.8,856.4 1308.8,851.9 1310.7,847.3 1312.6,842.7 1314.5,838.1 1316.3,833.4 1318.1,828.8 1319.8,824.1 1321.5,819.3 1323.2,814.6 1324.9,809.9 1326.6,805.1 1328.2,800.3 1329.8,795.5 1331.4,790.7 1333.0,785.9 1334.6,781.1 1336.1,776.3 1337.7,771.5 1339.2,766.7 1340.7,761.9 1342.3,757.0 1343.8,752.2 1345.4,747.4 1346.9,742.6 1348.5,737.8 1350.0,733.0 1351.6,728.3 1352.0,727.0 1353.1,723.5 1354.7,718.7 1356.2,713.9 1357.6,709.1 1359.1,704.3 1360.5,699.5 1361.9,694.7 1363.3,689.8 1364.7,685.0 1366.1,680.2 1367.4,675.3 1368.8,670.5 1370.2,665.7 1371.6,660.8 1373.1,656.0 1374.5,651.2 1376.0,646.4 1377.5,641.7 1379.0,636.9 1380.6,632.2 1382.2,627.4 1383.9,622.7 1385.6,618.1 1386.0,617.0 1387.4,613.4 1389.2,608.7 1391.0,604.0 1392.9,599.3 1394.7,594.6 1396.7,589.9 1398.6,585.3 1400.7,580.6 1402.7,575.9 1404.8,571.3 1406.9,566.7 1409.1,562.2 1411.4,557.6 1413.7,553.2 1416.0,548.7 1418.4,544.4 1420.9,540.1 1423.4,535.8 1425.9,531.7 1427.0,530.0 1428.6,527.6 1431.4,523.6 1434.4,519.6 1437.6,515.8 1440.8,512.0 1444.2,508.2 1447.6,504.5 1451.1,500.8 1454.6,497.2 1458.1,493.5 1461.7,489.8 1465.1,486.1 1468.6,482.5 1470.8,480.0 1471.9,478.7 1475.3,475.0 1478.6,471.2 1481.9,467.3 1485.1,463.5 1488.4,459.7 1491.7,455.8 1495.0,452.0 1498.3,448.2 1501.7,444.4 1505.1,440.7 1508.5,437.0 1511.9,433.4 1515.4,429.9 1519.0,426.4 1522.6,423.0 1526.0,420.0 1526.3,419.7 1530.1,416.5 1534.0,413.4 1538.0,410.4 1542.0,407.4 1546.1,404.5 1550.2,401.6 1554.4,398.8 1558.6,396.0 1562.8,393.2 1567.0,390.4 1571.2,387.6 1572.0,387.0 1575.3,384.7 1579.4,381.8 1583.5,378.8 1587.7,375.9 1591.9,373.1 1596.1,370.4 1600.4,367.9 1604.8,365.7 1605.4,365.5 1609.4,363.8 1614.0,362.1 1618.7,360.4 1623.5,358.9 1628.3,357.4 1633.2,356.0 1638.1,354.6 1642.9,353.3 1647.8,351.9 1649.0,351.5 1652.6,350.4 1657.4,349.0 1662.2,347.6 1667.0,346.3 1671.9,344.9 1676.7,343.6 1681.6,342.3 1686.4,341.0 1691.3,339.8 1692.5,339.5 1696.1,338.6 1701.0,337.4 1705.9,336.2 1710.8,335.0 1715.7,333.8 1720.5,332.7 1725.5,331.7 1730.4,330.8 1735.3,329.9 1736.0,329.8 1740.2,329.2 1745.2,328.5 1750.2,328.0 1755.2,327.4 1760.2,326.9 1765.2,326.4 1770.2,325.8 1775.2,325.2 1780.0,324.5 1780.1,324.5 1785.0,323.6 1790.0,322.7 1794.9,321.6 1799.8,320.6 1804.7,319.6 1809.0,318.8 1809.6,318.7 1814.6,317.8 1819.5,317.0 1824.5,316.2 1829.4,315.4 1834.4,314.6 1839.3,313.8 1844.3,313.1 1849.3,312.4 1854.2,311.7 1859.2,311.1 1863.4,310.6 1864.2,310.5 1869.2,309.9 1874.2,309.3 1879.2,308.8 1884.2,308.4 1886.6,308.4 1889.2,308.4 1894.2,308.5 1899.2,308.7 1904.2,308.9 1909.2,309.0 1914.2,309.2 1918.0,309.2 1919.2,309.2 1924.3,309.1 1929.3,308.8 1934.3,308.5 1939.3,308.1 1944.3,307.6 1949.3,307.1 1954.3,306.7 1958.7,306.3 1959.3,306.3 1964.3,305.9 1969.3,305.5 1974.3,305.0 1979.3,304.6 1984.3,304.2 1989.3,303.8 1994.3,303.4 1999.3,303.1 2000.0,303.0 2004.3,302.7 2009.3,302.4 2014.3,302.1 2019.3,301.7 2024.3,301.4 2029.3,301.1 2034.3,300.8 2039.3,300.5 2040.0,300.5 2044.3,300.2 2049.3,299.9 2054.3,299.6 2059.3,299.2 2064.3,299.0 2069.3,298.8 2072.0,298.7 2074.3,298.7 2079.4,298.6 2084.4,298.5 2089.4,298.4 2094.4,298.3 2099.4,298.2 2104.4,298.2 2109.4,298.1 2114.5,298.1 2119.5,298.0 2124.5,298.0 2129.5,297.9 2134.5,297.9 2139.5,297.9 2144.6,297.8 2149.6,297.8 2154.6,297.8 2159.6,297.8 2160.0,297.8 2164.6,297.8 2169.6,297.8 2174.6,297.9 2179.7,297.9 2184.7,298.0 2189.7,298.0 2194.7,298.1 2199.7,298.1 2204.7,298.2 2209.7,298.3 2214.8,298.3 2219.8,298.4 2224.8,298.5 2229.8,298.5 2230.0,298.5 2234.8,298.5 2239.8,298.6 2244.9,298.6 2249.9,298.7 2254.9,298.7 2259.9,298.7 2264.9,298.8 2269.9,298.8 2274.9,298.9 2280.0,298.9 2285.0,298.9 2290.0,299.0 2295.0,299.0"/>
<polyline class="crv" stroke="#008080" points="430.0,1153.8 435.0,1154.2 440.0,1154.5 445.0,1154.9 450.0,1155.2 455.0,1155.5 460.1,1155.8 465.1,1156.1 470.1,1156.3 475.1,1156.6 480.0,1156.8 480.1,1156.8 485.1,1157.0 490.1,1157.3 495.2,1157.5 500.2,1157.7 505.2,1157.9 510.2,1158.1 515.2,1158.2 520.3,1158.3 525.3,1158.3 525.3,1158.3 530.3,1158.3 535.3,1158.1 540.3,1157.9 545.3,1157.7 550.3,1157.4 555.4,1157.1 560.4,1156.8 565.4,1156.6 570.0,1156.3 570.4,1156.3 575.4,1156.0 580.4,1155.7 585.4,1155.4 590.4,1155.0 595.5,1154.7 600.5,1154.4 605.5,1154.0 610.5,1153.7 615.5,1153.4 620.5,1153.1 620.6,1153.1 625.5,1152.8 630.5,1152.6 635.5,1152.3 640.6,1152.1 645.6,1151.9 650.6,1151.7 655.6,1151.4 660.6,1151.2 665.6,1151.0 670.7,1150.8 675.7,1150.6 680.7,1150.4 685.7,1150.2 690.7,1150.0 695.7,1149.8 700.8,1149.6 705.8,1149.3 710.8,1149.1 715.8,1148.9 720.8,1148.6 725.8,1148.4 729.6,1148.2 730.8,1148.1 735.8,1147.9 740.9,1147.6 745.9,1147.3 750.9,1147.0 755.9,1146.7 760.9,1146.4 765.9,1146.1 770.9,1145.8 775.9,1145.5 781.0,1145.2 786.0,1144.9 791.0,1144.6 796.0,1144.2 801.0,1143.9 806.0,1143.6 811.0,1143.2 816.0,1142.9 821.0,1142.5 826.0,1142.2 831.0,1141.8 836.0,1141.5 838.5,1141.3 841.1,1141.1 846.1,1140.8 851.1,1140.4 856.1,1140.0 861.1,1139.7 866.1,1139.3 871.1,1138.9 876.1,1138.5 881.1,1138.1 886.1,1137.7 891.1,1137.3 896.1,1136.9 901.1,1136.4 906.1,1136.0 911.1,1135.5 916.1,1134.9 920.2,1134.5 921.1,1134.4 926.1,1133.8 931.1,1133.2 936.0,1132.5 941.0,1131.8 946.0,1131.1 951.0,1130.3 955.9,1129.5 960.9,1128.6 965.8,1127.7 970.7,1126.8 974.7,1126.0 975.6,1125.8 980.5,1124.7 985.4,1123.4 990.2,1122.1 995.1,1120.7 999.9,1119.3 1000.0,1119.3 1004.7,1118.0 1009.6,1116.6 1014.4,1115.2 1019.2,1113.8 1024.0,1112.3 1028.8,1110.9 1033.6,1109.4 1038.4,1107.9 1043.2,1106.4 1043.6,1106.3 1048.0,1104.9 1052.8,1103.3 1057.5,1101.8 1062.3,1100.2 1067.0,1098.5 1071.8,1096.9 1076.6,1095.4 1081.3,1093.8 1086.1,1092.3 1087.0,1092.0 1090.9,1090.8 1095.7,1089.4 1100.6,1088.1 1105.4,1086.8 1110.3,1085.4 1115.1,1083.9 1119.8,1082.4 1120.0,1082.3 1124.5,1080.7 1129.2,1078.8 1133.9,1076.8 1136.0,1075.8 1138.3,1074.6 1142.6,1072.2 1146.9,1069.5 1151.1,1066.7 1155.2,1063.8 1159.4,1060.9 1163.5,1058.0 1165.0,1057.0 1167.6,1055.2 1171.7,1052.3 1175.8,1049.4 1179.9,1046.4 1184.0,1043.5 1188.1,1040.6 1189.0,1040.0 1192.3,1037.8 1196.5,1035.1 1200.8,1032.4 1205.1,1029.8 1209.4,1027.2 1213.7,1024.5 1218.0,1021.9 1222.2,1019.2 1226.4,1016.4 1230.4,1013.5 1234.4,1010.5 1235.0,1010.0 1238.2,1007.4 1242.1,1004.2 1245.9,1000.9 1249.7,997.6 1253.5,994.2 1257.2,990.8 1260.9,987.3 1264.6,983.7 1268.2,980.1 1271.7,976.4 1275.2,972.7 1278.6,968.9 1281.9,965.1 1285.2,961.3 1288.3,957.4 1291.3,953.5 1294.2,949.5 1296.0,947.0 1297.0,945.5 1299.8,941.5 1302.4,937.3 1305.0,933.1 1307.5,928.8 1310.0,924.4 1312.5,920.0 1314.8,915.5 1317.2,911.0 1319.4,906.5 1321.7,901.9 1323.8,897.3 1326.0,892.7 1328.1,888.0 1330.2,883.4 1332.2,878.8 1334.2,874.2 1336.0,870.0 1336.2,869.6 1338.1,865.0 1340.0,860.4 1341.9,855.8 1343.7,851.1 1345.5,846.5 1347.3,841.8 1349.0,837.1 1350.8,832.4 1352.5,827.7 1354.1,822.9 1355.8,818.2 1357.4,813.4 1359.1,808.7 1360.7,803.9 1362.3,799.1 1363.8,794.4 1365.4,789.6 1367.0,784.8 1368.5,780.0 1370.1,775.2 1371.7,770.4 1373.2,765.6 1374.8,760.8 1376.3,756.1 1377.9,751.3 1379.5,746.5 1381.0,741.7 1382.6,736.9 1384.2,732.2 1385.9,727.4 1386.0,727.0 1387.5,722.7 1389.1,717.9 1390.7,713.1 1392.2,708.4 1393.8,703.6 1395.3,698.8 1396.9,694.0 1398.4,689.2 1399.9,684.4 1401.4,679.7 1403.0,674.9 1404.5,670.1 1406.1,665.3 1407.6,660.5 1409.2,655.8 1410.8,651.0 1412.4,646.2 1414.0,641.5 1415.7,636.8 1417.4,632.0 1419.1,627.3 1420.8,622.6 1422.6,618.0 1423.0,617.0 1424.4,613.3 1426.3,608.6 1428.1,603.9 1429.9,599.2 1431.8,594.5 1433.7,589.8 1435.6,585.1 1437.5,580.5 1439.5,575.8 1441.5,571.1 1443.5,566.5 1445.6,561.9 1447.7,557.4 1449.9,552.8 1452.1,548.3 1454.4,543.9 1456.7,539.5 1459.1,535.1 1461.5,530.9 1462.0,530.0 1464.0,526.6 1466.7,522.4 1469.5,518.3 1472.4,514.2 1475.4,510.2 1478.5,506.2 1481.6,502.2 1484.8,498.3 1488.0,494.4 1491.2,490.5 1494.5,486.6 1497.7,482.7 1500.0,480.0 1500.9,478.9 1504.1,475.0 1507.4,471.2 1510.6,467.4 1513.9,463.6 1517.2,459.8 1520.5,456.0 1523.9,452.2 1527.3,448.5 1530.7,444.8 1534.1,441.1 1537.5,437.4 1541.0,433.8 1544.5,430.2 1548.1,426.7 1551.7,423.2 1555.0,420.0 1555.3,419.7 1559.0,416.4 1562.8,413.1 1566.7,409.9 1570.6,406.8 1574.5,403.6 1578.3,400.3 1582.0,397.0 1582.0,397.0 1585.6,393.3 1589.0,389.4 1592.3,385.5 1595.7,381.6 1599.2,377.9 1602.8,374.8 1605.4,373.0 1606.7,372.2 1611.0,370.0 1615.4,367.9 1620.0,366.0 1624.8,364.3 1629.7,362.6 1634.6,361.0 1639.5,359.5 1644.4,358.0 1649.0,356.5 1649.2,356.4 1654.0,354.9 1658.8,353.4 1663.6,352.0 1668.4,350.6 1673.3,349.2 1678.1,347.9 1683.0,346.5 1687.8,345.2 1692.5,344.0 1692.7,344.0 1697.5,342.7 1702.4,341.4 1707.2,340.1 1712.1,338.8 1717.0,337.6 1721.9,336.4 1726.8,335.3 1731.7,334.3 1736.0,333.5 1736.6,333.4 1741.5,332.6 1746.5,331.9 1751.5,331.2 1756.5,330.6 1761.4,330.0 1766.4,329.4 1771.4,328.8 1776.4,328.1 1780.0,327.5 1781.3,327.3 1786.3,326.4 1791.2,325.4 1796.1,324.3 1801.0,323.3 1806.0,322.3 1809.0,321.8 1810.9,321.5 1815.9,320.6 1820.8,319.8 1825.8,318.9 1830.7,318.1 1835.7,317.3 1840.6,316.6 1845.6,315.9 1850.6,315.2 1855.6,314.5 1860.5,313.9 1863.4,313.6 1865.5,313.4 1870.5,312.8 1875.5,312.2 1880.5,311.7 1885.5,311.5 1886.6,311.5 1890.5,311.5 1895.6,311.7 1900.6,311.9 1905.6,312.1 1910.6,312.5 1915.6,312.8 1918.0,313.0 1920.6,313.3 1925.5,314.1 1930.4,315.2 1935.3,316.4 1940.3,317.5 1945.0,318.4 1945.2,318.4 1950.2,319.2 1955.1,320.0 1960.1,320.8 1965.1,321.5 1970.1,322.1 1975.1,322.4 1979.0,322.5 1980.1,322.5 1985.1,322.1 1990.0,321.3 1995.0,320.4 2000.0,319.5 2000.0,319.5 2004.9,318.7 2009.9,317.8 2014.8,316.9 2019.7,315.9 2024.7,315.0 2029.6,314.0 2034.5,313.1 2039.5,312.3 2043.6,311.6 2044.4,311.5 2049.4,310.7 2054.3,309.9 2059.3,309.1 2064.3,308.4 2069.3,307.7 2074.2,307.0 2079.2,306.5 2084.2,306.0 2087.0,305.8 2089.2,305.6 2094.2,305.3 2099.2,305.0 2104.2,304.8 2109.3,304.5 2114.3,304.3 2119.3,304.1 2124.3,304.0 2129.3,303.8 2130.0,303.8 2134.4,303.7 2139.4,303.6 2144.4,303.5 2149.4,303.4 2154.4,303.3 2159.5,303.3 2160.0,303.3 2164.5,303.3 2169.5,303.3 2174.5,303.3 2179.5,303.3 2184.6,303.3 2189.6,303.3 2194.6,303.3 2199.6,303.3 2204.6,303.3 2209.7,303.3 2214.7,303.3 2219.7,303.3 2224.7,303.4 2229.7,303.4 2234.8,303.4 2239.8,303.4 2244.8,303.4 2249.8,303.4 2254.8,303.5 2259.9,303.5 2264.9,303.5 2269.9,303.6 2274.9,303.6 2279.9,303.7 2285.0,303.7 2290.0,303.7 2295.0,303.8"/>
<polyline class="crv" stroke="#ff00ff" points="430.0,1283.7 435.0,1283.4 440.0,1283.0 445.0,1282.7 450.0,1282.4 455.0,1282.0 460.0,1281.7 465.0,1281.3 470.0,1280.9 475.0,1280.6 480.0,1280.2 485.0,1279.8 490.0,1279.4 495.0,1279.0 500.0,1278.6 505.0,1278.2 510.0,1277.8 514.9,1277.4 519.9,1276.9 524.9,1276.5 525.0,1276.5 529.9,1276.1 534.9,1275.6 539.9,1275.2 544.9,1274.7 549.9,1274.2 554.9,1273.7 559.9,1273.2 564.8,1272.7 569.8,1272.2 574.8,1271.7 579.8,1271.2 584.8,1270.7 589.8,1270.2 594.7,1269.6 599.7,1269.1 604.7,1268.6 609.7,1268.1 614.7,1267.5 619.7,1267.0 620.6,1266.9 624.6,1266.5 629.6,1265.9 634.6,1265.4 639.6,1264.9 644.6,1264.4 649.6,1263.8 654.5,1263.3 659.5,1262.8 664.5,1262.2 669.5,1261.7 674.5,1261.1 679.5,1260.6 684.4,1260.0 689.4,1259.5 694.4,1258.9 699.4,1258.3 704.3,1257.8 709.3,1257.2 714.3,1256.6 719.3,1256.0 724.2,1255.4 729.2,1254.7 729.6,1254.7 734.2,1254.1 739.2,1253.5 744.1,1252.9 749.1,1252.2 754.1,1251.6 759.1,1250.9 764.0,1250.3 769.0,1249.6 774.0,1249.0 778.9,1248.3 783.9,1247.6 788.9,1246.9 793.8,1246.2 798.8,1245.5 803.8,1244.7 808.7,1244.0 813.7,1243.2 818.6,1242.4 823.5,1241.6 828.5,1240.8 833.4,1239.9 838.3,1239.0 838.5,1239.0 843.2,1238.1 848.2,1237.2 853.1,1236.2 858.0,1235.2 862.9,1234.2 867.8,1233.1 872.7,1232.0 877.6,1230.9 882.5,1229.7 887.3,1228.6 892.2,1227.4 897.1,1226.1 901.9,1224.9 906.8,1223.6 911.6,1222.3 916.5,1221.0 920.2,1220.0 921.3,1219.7 926.1,1218.3 930.9,1216.8 935.6,1215.3 940.4,1213.7 945.2,1212.1 949.9,1210.5 950.0,1210.5 954.7,1208.9 959.4,1207.3 964.1,1205.7 968.9,1204.0 973.6,1202.3 978.3,1200.7 981.6,1199.5 983.0,1199.0 987.8,1197.3 992.5,1195.6 997.2,1193.9 1000.0,1192.8 1001.9,1192.1 1006.5,1190.3 1011.2,1188.4 1015.8,1186.6 1020.5,1184.7 1025.1,1182.8 1027.0,1182.0 1029.7,1180.9 1034.4,1178.9 1039.0,1176.9 1043.5,1174.8 1043.6,1174.8 1048.0,1172.7 1052.5,1170.5 1057.0,1168.2 1061.5,1165.9 1065.9,1163.6 1070.3,1161.2 1072.4,1160.0 1074.7,1158.7 1079.0,1156.2 1083.3,1153.6 1087.0,1151.3 1087.5,1151.0 1091.7,1148.2 1095.9,1145.4 1100.0,1142.6 1104.2,1139.8 1108.2,1136.9 1112.3,1133.9 1116.4,1130.9 1120.4,1128.0 1124.4,1124.9 1128.4,1121.9 1130.7,1120.1 1132.3,1118.8 1136.3,1115.8 1140.3,1112.7 1144.2,1109.6 1148.2,1106.4 1152.0,1103.2 1155.8,1099.9 1159.5,1096.6 1163.1,1093.2 1163.4,1092.9 1166.6,1089.6 1170.0,1085.9 1173.2,1082.1 1176.4,1078.2 1179.6,1074.3 1182.8,1070.4 1186.0,1066.6 1189.3,1062.8 1190.0,1062.0 1192.7,1059.1 1196.3,1055.6 1199.9,1052.0 1203.5,1048.5 1206.9,1044.8 1210.1,1041.1 1211.0,1040.0 1213.1,1037.2 1216.0,1033.2 1218.8,1029.1 1221.5,1025.0 1224.1,1020.8 1226.7,1016.5 1229.3,1012.2 1231.8,1007.9 1234.2,1003.5 1236.6,999.1 1239.0,994.6 1241.3,990.1 1243.7,985.6 1246.0,981.1 1248.3,976.6 1250.6,972.1 1252.8,967.6 1255.1,963.1 1257.4,958.6 1259.8,954.1 1262.1,949.6 1263.5,947.0 1264.5,945.2 1266.8,940.8 1269.2,936.4 1271.6,932.0 1274.0,927.6 1276.4,923.1 1278.8,918.7 1281.1,914.3 1283.5,909.9 1285.8,905.4 1288.1,901.0 1290.4,896.5 1292.7,892.0 1294.9,887.5 1297.0,883.0 1299.2,878.5 1301.2,874.0 1303.0,870.0 1303.3,869.4 1305.3,864.8 1307.2,860.2 1309.2,855.6 1311.1,851.0 1313.0,846.4 1314.9,841.8 1316.7,837.1 1318.5,832.5 1320.4,827.8 1322.2,823.1 1324.0,818.4 1325.7,813.7 1327.5,809.0 1329.2,804.3 1330.9,799.6 1332.6,794.9 1334.3,790.1 1336.0,785.4 1337.7,780.7 1339.4,775.9 1341.0,771.2 1342.7,766.4 1344.3,761.7 1345.9,756.9 1347.5,752.2 1349.1,747.4 1350.7,742.7 1352.3,737.9 1353.9,733.2 1355.5,728.4 1356.0,727.0 1357.1,723.7 1358.6,718.9 1360.2,714.2 1361.7,709.4 1363.1,704.6 1364.6,699.8 1366.0,695.0 1367.5,690.2 1368.9,685.4 1370.3,680.6 1371.7,675.7 1373.1,670.9 1374.5,666.1 1375.9,661.3 1377.3,656.5 1378.8,651.7 1380.2,646.9 1381.7,642.1 1383.1,637.3 1384.6,632.5 1386.1,627.8 1387.7,623.0 1389.3,618.2 1389.7,617.0 1390.9,613.5 1392.5,608.8 1394.1,604.0 1395.7,599.2 1397.4,594.5 1399.0,589.7 1400.7,585.0 1402.3,580.2 1404.0,575.5 1405.7,570.8 1407.5,566.1 1409.3,561.4 1411.1,556.7 1412.9,552.0 1414.8,547.4 1416.7,542.8 1418.7,538.2 1420.7,533.7 1422.4,530.0 1422.8,529.2 1425.0,524.7 1427.2,520.2 1429.6,515.8 1432.0,511.5 1434.5,507.1 1437.1,502.8 1439.7,498.5 1442.3,494.1 1444.9,489.8 1447.4,485.5 1450.0,481.2 1450.7,480.0 1452.5,476.9 1455.0,472.5 1457.4,468.0 1459.8,463.6 1462.3,459.1 1464.7,454.7 1467.1,450.2 1469.6,445.8 1472.2,441.5 1474.7,437.2 1477.4,432.9 1480.1,428.8 1483.0,424.8 1485.9,420.9 1486.6,420.0 1489.0,417.1 1492.2,413.4 1495.6,409.9 1499.1,406.3 1502.7,402.9 1506.5,399.5 1510.2,396.2 1514.1,392.9 1517.9,389.6 1521.8,386.3 1525.7,383.0 1529.6,379.7 1533.4,376.4 1537.1,373.0 1540.0,370.3 1540.8,369.6 1544.4,366.1 1547.9,362.6 1551.5,359.0 1555.0,355.4 1558.6,351.9 1562.1,348.4 1565.7,344.9 1569.4,341.5 1572.7,338.5 1573.1,338.1 1576.9,334.8 1580.6,331.5 1584.5,328.3 1588.3,325.0 1592.2,321.9 1596.2,318.8 1600.2,315.8 1604.3,312.9 1605.4,312.1 1608.4,310.1 1612.6,307.4 1616.8,304.8 1621.1,302.2 1625.5,299.7 1629.9,297.3 1634.3,294.9 1638.7,292.5 1643.2,290.1 1647.6,287.8 1649.0,287.0 1652.0,285.4 1656.4,283.1 1660.9,280.7 1665.3,278.5 1669.8,276.2 1674.3,274.0 1678.8,271.7 1683.3,269.6 1687.9,267.4 1692.4,265.3 1692.5,265.3 1697.0,263.3 1701.6,261.4 1706.2,259.5 1710.9,257.6 1715.5,255.7 1720.2,253.9 1724.8,252.0 1729.4,250.0 1734.0,248.0 1736.0,247.1 1738.6,245.9 1743.0,243.5 1747.4,241.2 1751.9,238.9 1754.5,237.8 1756.5,237.0 1761.2,235.3 1766.0,233.7 1770.8,232.2 1775.6,230.7 1780.0,229.3 1780.3,229.2 1785.1,227.6 1789.8,225.9 1794.6,224.3 1799.3,222.7 1804.1,221.2 1808.9,219.8 1809.0,219.8 1813.7,218.6 1818.6,217.4 1823.5,216.3 1828.4,215.2 1833.3,214.2 1838.2,213.1 1843.1,212.2 1848.0,211.2 1853.0,210.2 1857.9,209.2 1862.8,208.2 1863.4,208.1 1867.7,207.2 1872.6,206.2 1877.5,205.2 1882.4,204.2 1887.3,203.2 1892.3,202.3 1897.2,201.3 1902.1,200.3 1907.0,199.4 1911.9,198.4 1916.9,197.5 1918.0,197.3 1921.8,196.6 1926.7,195.6 1931.6,194.7 1936.6,193.7 1941.5,192.8 1946.4,191.9 1951.3,191.0 1956.3,190.1 1961.2,189.3 1966.2,188.6 1971.1,187.9 1972.4,187.7 1976.1,187.3 1981.1,186.8 1986.1,186.3 1991.1,185.8 1996.1,185.3 2000.0,184.8 2001.0,184.7 2005.9,183.8 2010.8,182.7 2015.7,181.5 2020.6,180.2 2025.4,178.9 2030.3,177.5 2035.2,176.2 2040.0,175.0 2044.9,173.9 2049.8,173.1 2054.0,172.6 2054.8,172.5 2059.7,172.1 2064.7,171.7 2069.7,171.4 2074.7,171.1 2079.8,170.8 2084.8,170.5 2089.8,170.3 2090.0,170.3 2094.8,170.1 2099.8,169.9 2104.8,169.7 2109.8,169.5 2114.8,169.3 2119.8,169.1 2124.8,168.9 2129.8,168.8 2134.8,168.6 2139.9,168.5 2144.9,168.3 2145.0,168.3 2149.9,168.2 2154.9,168.0 2159.9,167.9 2164.9,167.8 2169.9,167.6 2174.9,167.5 2179.9,167.4 2184.9,167.3 2190.0,167.1 2195.0,167.0 2200.0,166.9 2205.0,166.7 2210.0,166.6 2215.0,166.4 2217.5,166.3 2220.0,166.2 2225.0,166.0 2230.0,165.8 2235.0,165.5 2240.0,165.2 2245.0,164.9 2250.0,164.6 2255.0,164.3 2260.0,164.0 2265.0,163.6 2270.0,163.3 2275.0,162.9 2280.0,162.5 2285.0,162.1 2290.0,161.7 2295.0,161.3"/>
<polyline class="crv" stroke="#ff00ff" points="430.0,1288.7 435.0,1288.4 440.0,1288.0 445.0,1287.7 450.0,1287.4 455.1,1287.0 460.1,1286.7 465.1,1286.3 470.1,1285.9 475.1,1285.6 480.1,1285.2 485.1,1284.8 490.1,1284.4 495.1,1284.0 500.1,1283.6 505.1,1283.2 510.1,1282.8 515.1,1282.3 520.1,1281.9 525.0,1281.5 525.1,1281.5 530.1,1281.1 535.1,1280.6 540.1,1280.1 545.1,1279.7 550.1,1279.2 555.1,1278.7 560.1,1278.2 565.1,1277.7 570.1,1277.2 575.1,1276.7 580.1,1276.2 585.1,1275.7 590.1,1275.1 595.1,1274.6 600.1,1274.1 605.0,1273.5 610.0,1273.0 615.0,1272.5 620.0,1272.0 620.6,1271.9 625.0,1271.4 630.0,1270.9 635.0,1270.4 640.0,1269.8 645.0,1269.3 650.0,1268.8 655.0,1268.3 660.0,1267.7 665.0,1267.2 670.0,1266.6 674.9,1266.1 679.9,1265.5 684.9,1265.0 689.9,1264.4 694.9,1263.9 699.9,1263.3 704.9,1262.7 709.9,1262.1 714.8,1261.5 719.8,1260.9 724.8,1260.3 729.6,1259.7 729.8,1259.7 734.8,1259.0 739.8,1258.4 744.7,1257.8 749.7,1257.1 754.7,1256.5 759.7,1255.9 764.7,1255.2 769.7,1254.5 774.6,1253.9 779.6,1253.2 784.6,1252.5 789.6,1251.8 794.5,1251.1 799.5,1250.4 804.5,1249.6 809.4,1248.9 814.4,1248.1 819.3,1247.3 824.3,1246.5 829.2,1245.6 834.2,1244.8 838.5,1244.0 839.1,1243.9 844.0,1243.0 849.0,1242.0 853.9,1241.1 858.8,1240.0 863.7,1239.0 868.6,1237.9 873.5,1236.8 878.4,1235.7 883.3,1234.5 888.2,1233.4 893.1,1232.1 898.0,1230.9 902.8,1229.7 907.7,1228.4 912.5,1227.1 917.4,1225.8 920.2,1225.0 922.2,1224.4 927.0,1223.0 931.8,1221.5 936.6,1220.0 941.4,1218.4 946.1,1216.8 950.0,1215.5 950.9,1215.2 955.6,1213.6 960.4,1212.0 965.1,1210.3 969.9,1208.7 974.6,1207.0 979.3,1205.3 981.6,1204.5 984.1,1203.6 988.8,1201.9 993.5,1200.2 998.2,1198.5 1000.0,1197.8 1002.9,1196.7 1007.6,1194.9 1012.3,1193.0 1016.9,1191.2 1021.6,1189.3 1026.2,1187.3 1027.0,1187.0 1030.8,1185.4 1035.5,1183.4 1040.1,1181.4 1043.6,1179.8 1044.6,1179.3 1049.1,1177.2 1053.6,1174.9 1058.1,1172.7 1062.6,1170.3 1067.0,1168.0 1071.4,1165.6 1072.4,1165.0 1075.8,1163.1 1080.1,1160.6 1084.4,1157.9 1087.0,1156.3 1088.6,1155.2 1092.8,1152.5 1097.0,1149.7 1101.1,1146.9 1105.3,1144.0 1109.4,1141.1 1113.4,1138.1 1117.5,1135.1 1121.5,1132.1 1125.5,1129.1 1129.5,1126.0 1130.7,1125.1 1133.4,1123.0 1137.3,1119.8 1141.2,1116.6 1145.1,1113.4 1148.9,1110.2 1152.7,1106.9 1156.5,1103.6 1160.4,1100.4 1163.4,1097.9 1164.3,1097.2 1168.2,1094.0 1172.1,1090.9 1176.0,1087.8 1179.9,1084.6 1183.9,1081.5 1187.8,1078.3 1191.7,1075.2 1195.5,1071.9 1199.3,1068.6 1200.0,1068.0 1203.0,1065.3 1206.8,1062.0 1210.6,1058.6 1214.3,1055.1 1217.9,1051.7 1221.5,1048.1 1225.0,1044.5 1228.3,1040.8 1229.0,1040.0 1231.5,1037.1 1234.6,1033.2 1237.7,1029.3 1240.7,1025.4 1243.7,1021.4 1246.6,1017.3 1249.5,1013.2 1252.3,1009.1 1255.2,1004.9 1257.9,1000.7 1260.7,996.4 1263.4,992.2 1266.1,987.9 1268.7,983.6 1271.4,979.3 1274.0,974.9 1276.6,970.6 1279.2,966.2 1281.8,961.9 1284.4,957.6 1287.0,953.3 1289.5,948.9 1290.7,947.0 1292.1,944.6 1294.7,940.4 1297.3,936.0 1300.0,931.7 1302.6,927.4 1305.3,923.1 1307.9,918.7 1310.5,914.4 1313.0,910.0 1315.5,905.6 1318.0,901.2 1320.4,896.8 1322.8,892.4 1325.0,887.9 1327.2,883.4 1329.3,878.9 1331.2,874.4 1333.0,870.0 1333.1,869.8 1334.9,865.2 1336.6,860.5 1338.2,855.9 1339.8,851.2 1341.4,846.5 1342.9,841.7 1344.3,836.9 1345.8,832.1 1347.2,827.3 1348.5,822.5 1349.9,817.6 1351.2,812.8 1352.5,807.9 1353.7,803.0 1355.0,798.1 1356.2,793.2 1357.5,788.3 1358.7,783.4 1360.0,778.5 1361.2,773.6 1362.5,768.7 1363.7,763.8 1365.0,758.9 1366.3,754.0 1367.6,749.2 1368.9,744.3 1370.3,739.4 1371.7,734.6 1373.1,729.8 1374.0,727.0 1374.6,725.0 1376.1,720.2 1377.6,715.4 1379.0,710.6 1380.5,705.8 1382.0,701.0 1383.4,696.1 1384.9,691.3 1386.4,686.5 1387.9,681.7 1389.4,676.9 1390.9,672.1 1392.5,667.3 1394.0,662.5 1395.6,657.8 1397.2,653.0 1398.8,648.3 1400.5,643.5 1402.2,638.8 1403.9,634.1 1405.6,629.4 1407.4,624.7 1409.2,620.1 1410.4,617.0 1411.0,615.4 1412.9,610.8 1414.9,606.2 1417.0,601.7 1419.1,597.1 1421.2,592.6 1423.5,588.1 1425.7,583.6 1428.0,579.1 1430.3,574.7 1432.6,570.2 1434.9,565.7 1437.2,561.3 1439.6,556.8 1441.9,552.3 1444.2,547.8 1446.5,543.3 1448.7,538.8 1450.9,534.3 1453.0,530.0 1453.1,529.8 1455.2,525.3 1457.3,520.7 1459.3,516.1 1461.4,511.5 1463.4,506.9 1465.4,502.3 1467.5,497.7 1469.6,493.1 1471.7,488.6 1473.9,484.1 1476.0,480.0 1476.2,479.6 1478.5,475.2 1480.9,470.8 1483.3,466.4 1485.8,462.1 1488.3,457.7 1490.9,453.4 1493.5,449.1 1496.1,444.8 1498.8,440.5 1501.5,436.2 1504.2,432.0 1506.9,427.8 1509.6,423.6 1512.0,420.0 1512.4,419.4 1515.2,415.2 1518.0,411.0 1520.8,406.8 1523.6,402.7 1526.5,398.5 1529.5,394.5 1532.5,390.5 1535.6,386.5 1538.8,382.7 1540.0,381.2 1542.0,378.9 1545.4,375.3 1548.9,371.7 1552.6,368.2 1556.2,364.8 1559.9,361.4 1563.7,358.0 1567.4,354.6 1571.0,351.1 1572.7,349.5 1574.6,347.6 1578.2,344.0 1581.7,340.3 1585.1,336.6 1588.6,332.9 1592.1,329.3 1595.7,325.8 1599.4,322.4 1603.2,319.2 1605.4,317.5 1607.1,316.3 1611.2,313.5 1615.3,310.8 1619.6,308.2 1624.0,305.7 1628.4,303.2 1632.9,300.8 1637.4,298.5 1641.9,296.1 1646.4,293.8 1649.0,292.4 1650.8,291.4 1655.2,289.1 1659.7,286.8 1664.2,284.5 1668.6,282.2 1673.1,279.9 1677.6,277.7 1682.2,275.5 1686.7,273.4 1691.2,271.3 1692.5,270.7 1695.8,269.2 1700.4,267.2 1705.1,265.3 1709.7,263.4 1714.4,261.6 1719.1,259.7 1723.7,257.8 1728.4,255.9 1733.0,253.9 1736.0,252.5 1737.5,251.8 1742.0,249.5 1746.4,247.1 1750.9,244.8 1754.5,243.2 1755.5,242.8 1760.1,241.1 1764.9,239.5 1769.7,237.9 1774.5,236.5 1779.3,234.9 1780.0,234.7 1784.1,233.3 1788.8,231.7 1793.6,230.0 1798.3,228.4 1803.1,226.9 1807.9,225.5 1809.0,225.2 1812.8,224.2 1817.6,223.0 1822.5,221.9 1827.4,220.8 1832.3,219.8 1837.2,218.7 1842.2,217.7 1847.1,216.8 1852.0,215.8 1857.0,214.8 1861.9,213.8 1863.4,213.5 1866.8,212.8 1871.7,211.8 1876.6,210.8 1881.6,209.8 1886.5,208.8 1891.4,207.8 1896.3,206.9 1901.3,205.9 1906.2,204.9 1911.1,204.0 1916.1,203.1 1918.0,202.7 1921.0,202.1 1925.9,201.2 1930.9,200.2 1935.8,199.3 1940.7,198.3 1945.7,197.4 1950.6,196.5 1955.6,195.6 1960.5,194.8 1965.5,194.1 1970.4,193.4 1972.4,193.1 1975.4,192.7 1980.4,192.2 1985.4,191.8 1990.4,191.3 1995.4,190.8 2000.0,190.2 2000.4,190.1 2005.3,189.3 2010.2,188.3 2015.1,187.1 2020.0,185.8 2024.9,184.4 2029.7,183.1 2034.6,181.7 2039.5,180.5 2044.4,179.4 2049.3,178.6 2054.0,178.0 2054.2,178.0 2059.2,177.5 2064.2,177.1 2069.2,176.8 2074.2,176.5 2079.3,176.2 2084.3,176.0 2089.3,175.7 2090.0,175.7 2094.3,175.5 2099.3,175.3 2104.4,175.1 2109.4,174.9 2114.4,174.7 2119.4,174.5 2124.4,174.3 2129.4,174.2 2134.5,174.0 2139.5,173.9 2144.5,173.7 2145.0,173.7 2149.5,173.6 2154.5,173.4 2159.6,173.3 2164.6,173.2 2169.6,173.1 2174.6,173.0 2179.6,172.9 2184.7,172.8 2189.7,172.7 2194.7,172.6 2199.7,172.5 2204.7,172.4 2209.7,172.2 2214.8,172.1 2217.5,172.0 2219.8,171.9 2224.8,171.8 2229.8,171.6 2234.8,171.4 2239.8,171.2 2244.9,171.0 2249.9,170.7 2254.9,170.5 2259.9,170.3 2264.9,170.0 2269.9,169.7 2274.9,169.5 2280.0,169.2 2285.0,168.9 2290.0,168.6 2295.0,168.3"/>
<polyline class="crv" stroke="#808000" points="430.0,1185.2 435.0,1185.3 440.0,1185.4 445.1,1185.5 450.1,1185.7 455.1,1185.8 460.1,1185.9 465.1,1186.1 470.1,1186.2 475.2,1186.3 480.2,1186.5 485.2,1186.7 490.2,1186.8 495.2,1187.0 500.3,1187.1 505.3,1187.3 510.3,1187.5 515.3,1187.7 520.3,1187.8 525.0,1188.0 525.3,1188.0 530.3,1188.2 535.4,1188.4 540.4,1188.7 545.4,1189.0 550.4,1189.3 555.4,1189.6 560.4,1189.9 565.4,1190.2 570.5,1190.5 575.5,1190.8 580.5,1191.1 585.5,1191.4 590.5,1191.7 595.5,1191.9 600.5,1192.1 605.6,1192.3 610.6,1192.4 615.6,1192.5 620.6,1192.5 620.6,1192.5 625.6,1192.5 630.6,1192.5 635.7,1192.4 640.7,1192.4 645.7,1192.4 650.7,1192.3 655.7,1192.2 660.7,1192.2 665.8,1192.1 670.8,1192.0 675.8,1191.9 680.8,1191.8 685.8,1191.7 690.9,1191.6 695.9,1191.4 700.9,1191.3 705.9,1191.2 710.9,1191.1 716.0,1190.9 721.0,1190.8 726.0,1190.7 729.6,1190.6 731.0,1190.6 736.0,1190.4 741.1,1190.3 746.1,1190.1 751.1,1190.0 756.1,1189.8 761.1,1189.6 766.1,1189.4 771.2,1189.2 776.2,1189.0 781.2,1188.7 786.2,1188.5 791.2,1188.3 796.2,1188.0 801.2,1187.8 806.3,1187.5 811.3,1187.2 816.3,1187.0 821.3,1186.7 826.3,1186.4 831.3,1186.1 836.3,1185.8 838.5,1185.7 841.3,1185.5 846.3,1185.2 851.4,1184.9 856.4,1184.6 861.4,1184.2 866.4,1183.9 871.4,1183.5 876.4,1183.1 881.4,1182.8 886.4,1182.3 891.4,1181.9 896.4,1181.5 901.4,1181.0 906.4,1180.5 911.4,1180.0 916.4,1179.4 920.2,1179.0 921.4,1178.9 926.3,1178.3 931.3,1177.6 936.3,1176.9 941.3,1176.1 946.3,1175.3 951.2,1174.4 956.2,1173.5 961.1,1172.5 966.0,1171.4 970.9,1170.3 974.7,1169.4 975.7,1169.1 980.5,1167.8 985.3,1166.1 990.0,1164.4 994.7,1162.5 999.4,1160.7 1000.0,1160.5 1004.1,1158.9 1008.7,1157.1 1013.4,1155.2 1018.0,1153.3 1022.7,1151.4 1027.3,1149.4 1031.9,1147.5 1036.5,1145.5 1041.2,1143.5 1043.6,1142.5 1045.8,1141.6 1050.4,1139.7 1055.1,1137.8 1059.8,1135.9 1064.4,1134.0 1069.1,1132.1 1073.7,1130.1 1078.3,1128.1 1082.8,1126.0 1087.0,1124.0 1087.3,1123.8 1091.8,1121.6 1096.3,1119.3 1100.7,1116.9 1105.1,1114.5 1109.5,1112.0 1113.9,1109.5 1118.2,1106.9 1122.5,1104.2 1126.7,1101.5 1130.7,1098.8 1130.8,1098.7 1134.9,1095.9 1138.9,1092.9 1142.9,1089.8 1146.8,1086.6 1150.7,1083.4 1154.5,1080.1 1158.3,1076.7 1161.9,1073.4 1163.4,1072.0 1165.6,1069.9 1169.2,1066.4 1172.7,1062.9 1176.2,1059.2 1179.7,1055.5 1183.0,1051.8 1186.3,1048.0 1189.6,1044.2 1192.7,1040.3 1193.0,1040.0 1195.8,1036.4 1198.9,1032.5 1201.8,1028.5 1204.8,1024.4 1207.7,1020.3 1210.5,1016.2 1213.3,1012.1 1216.1,1007.9 1218.8,1003.7 1221.6,999.5 1224.3,995.2 1227.0,991.0 1229.7,986.7 1232.3,982.4 1235.0,978.1 1237.7,973.9 1240.3,969.6 1243.0,965.3 1245.7,961.1 1248.4,956.8 1251.1,952.6 1253.9,948.4 1254.8,947.0 1256.7,944.2 1259.5,940.0 1262.4,935.9 1265.3,931.7 1268.2,927.6 1271.1,923.5 1274.1,919.4 1277.0,915.2 1280.0,911.1 1282.8,907.0 1285.7,902.8 1288.5,898.7 1291.3,894.5 1294.0,890.2 1296.6,886.0 1299.1,881.7 1301.6,877.4 1303.9,873.0 1305.5,870.0 1306.2,868.6 1308.3,864.2 1310.5,859.7 1312.6,855.3 1314.6,850.7 1316.6,846.2 1318.6,841.6 1320.5,837.0 1322.4,832.4 1324.3,827.7 1326.2,823.0 1328.0,818.4 1329.8,813.7 1331.6,808.9 1333.3,804.2 1335.0,799.5 1336.7,794.7 1338.4,789.9 1340.1,785.2 1341.8,780.4 1343.4,775.6 1345.1,770.8 1346.7,766.0 1348.3,761.2 1350.0,756.5 1351.6,751.7 1353.2,746.9 1354.8,742.1 1356.4,737.4 1358.1,732.6 1359.7,727.9 1360.0,727.0 1361.3,723.1 1362.9,718.4 1364.5,713.6 1366.0,708.8 1367.5,704.0 1369.0,699.2 1370.5,694.4 1371.9,689.6 1373.4,684.8 1374.8,679.9 1376.2,675.1 1377.7,670.3 1379.1,665.5 1380.6,660.7 1382.0,655.9 1383.5,651.1 1385.0,646.3 1386.5,641.5 1388.1,636.7 1389.7,632.0 1391.3,627.2 1393.0,622.5 1394.7,617.8 1395.0,617.0 1396.4,613.1 1398.2,608.5 1400.0,603.8 1401.9,599.1 1403.7,594.4 1405.6,589.8 1407.5,585.1 1409.5,580.5 1411.5,575.8 1413.5,571.2 1415.5,566.6 1417.5,562.0 1419.6,557.4 1421.8,552.9 1423.9,548.3 1426.1,543.8 1428.3,539.3 1430.5,534.8 1432.8,530.4 1433.0,530.0 1435.1,526.0 1437.4,521.5 1439.8,517.1 1442.3,512.7 1444.8,508.3 1447.4,503.9 1450.0,499.6 1452.6,495.3 1455.4,491.1 1458.1,486.9 1461.0,482.8 1463.0,480.0 1463.9,478.8 1466.9,474.9 1470.0,471.0 1473.2,467.2 1476.5,463.4 1479.8,459.7 1483.2,456.0 1486.7,452.4 1490.2,448.7 1493.7,445.1 1497.2,441.5 1500.8,437.9 1504.3,434.2 1507.8,430.6 1511.3,426.9 1514.7,423.2 1517.6,420.0 1518.0,419.5 1521.3,415.7 1524.6,411.9 1527.8,408.0 1531.1,404.1 1534.3,400.4 1537.7,396.7 1540.0,394.3 1541.2,393.1 1544.7,389.6 1548.4,386.1 1552.0,382.6 1555.7,379.2 1559.5,375.8 1563.3,372.5 1567.1,369.2 1571.0,366.0 1574.9,362.8 1578.8,359.8 1582.8,356.8 1583.6,356.2 1586.9,353.9 1591.0,351.0 1595.2,348.3 1599.4,345.6 1603.7,343.0 1608.0,340.4 1612.3,337.8 1616.7,335.2 1621.0,332.6 1625.3,330.0 1627.0,329.0 1629.6,327.4 1633.8,324.7 1638.1,322.0 1642.3,319.3 1646.6,316.6 1650.8,313.9 1655.1,311.3 1659.4,308.7 1663.8,306.3 1668.2,304.0 1670.7,302.8 1672.7,301.8 1677.3,299.7 1681.9,297.7 1686.6,295.9 1691.4,294.3 1692.5,294.0 1696.2,293.1 1701.1,292.0 1706.1,291.1 1711.0,290.2 1714.0,289.7 1716.0,289.3 1720.9,288.4 1725.8,287.4 1730.8,286.5 1735.7,285.7 1740.0,285.0 1740.7,284.9 1745.7,284.2 1750.7,283.6 1754.5,283.0 1755.6,282.8 1760.4,281.5 1765.1,279.9 1769.9,278.0 1774.6,276.2 1779.4,274.6 1781.7,274.0 1784.2,273.4 1789.1,272.2 1794.0,271.1 1798.9,270.1 1803.9,269.2 1808.8,268.5 1809.0,268.5 1813.8,268.0 1818.8,267.5 1823.8,267.1 1828.8,266.7 1833.8,266.2 1836.0,266.0 1838.8,265.7 1843.8,265.0 1848.7,264.2 1853.7,263.4 1858.7,262.6 1863.4,262.0 1863.6,262.0 1868.6,261.4 1873.6,260.8 1878.6,260.3 1883.6,259.8 1888.6,259.3 1893.6,258.9 1898.6,258.4 1903.6,258.0 1904.0,258.0 1908.6,257.6 1913.6,257.2 1918.6,256.8 1923.6,256.5 1928.6,256.1 1933.6,255.8 1938.7,255.5 1943.7,255.3 1945.0,255.3 1948.7,255.2 1953.7,255.1 1958.7,255.0 1963.7,254.9 1968.8,254.8 1972.0,254.8 1973.8,254.8 1978.8,254.8 1983.8,254.8 1988.8,254.8 1993.9,254.8 1998.9,254.8 2000.0,254.8 2003.9,254.8 2008.9,254.9 2013.9,255.0 2019.0,255.2 2024.0,255.4 2029.0,255.6 2034.0,255.8 2039.0,256.0 2044.0,256.2 2049.1,256.4 2054.0,256.5 2054.1,256.5 2059.1,256.6 2064.1,256.7 2069.1,256.8 2074.1,256.9 2079.2,257.0 2084.2,257.1 2089.2,257.1 2094.2,257.2 2099.2,257.3 2104.3,257.3 2109.3,257.4 2114.3,257.5 2119.3,257.6 2124.3,257.6 2129.4,257.7 2134.4,257.8 2135.8,257.8 2139.4,257.9 2144.4,257.9 2149.4,258.0 2154.5,258.1 2159.5,258.2 2164.5,258.3 2169.5,258.4 2174.5,258.5 2179.6,258.5 2184.6,258.6 2189.6,258.7 2194.6,258.8 2199.6,258.8 2204.6,258.9 2209.7,258.9 2214.7,259.0 2217.5,259.0 2219.7,259.0 2224.7,259.0 2229.7,259.1 2234.8,259.1 2239.8,259.1 2244.8,259.2 2249.8,259.2 2254.8,259.2 2259.9,259.2 2264.9,259.2 2269.9,259.3 2274.9,259.3 2279.9,259.3 2285.0,259.3 2290.0,259.3 2295.0,259.3"/>
<polyline class="crv" stroke="#808000" points="430.0,1189.2 435.0,1189.3 440.0,1189.4 445.1,1189.5 450.1,1189.7 455.1,1189.8 460.1,1189.9 465.1,1190.1 470.2,1190.2 475.2,1190.3 480.2,1190.5 485.2,1190.7 490.2,1190.8 495.2,1191.0 500.3,1191.1 505.3,1191.3 510.3,1191.5 515.3,1191.7 520.3,1191.8 525.0,1192.0 525.3,1192.0 530.4,1192.2 535.4,1192.4 540.4,1192.7 545.4,1193.0 550.4,1193.3 555.4,1193.6 560.4,1193.9 565.5,1194.2 570.5,1194.5 575.5,1194.8 580.5,1195.1 585.5,1195.4 590.5,1195.7 595.5,1195.9 600.6,1196.1 605.6,1196.3 610.6,1196.4 615.6,1196.5 620.6,1196.5 620.6,1196.5 625.6,1196.5 630.7,1196.5 635.7,1196.4 640.7,1196.4 645.7,1196.4 650.7,1196.3 655.7,1196.2 660.8,1196.2 665.8,1196.1 670.8,1196.0 675.8,1195.9 680.9,1195.8 685.9,1195.7 690.9,1195.6 695.9,1195.4 700.9,1195.3 706.0,1195.2 711.0,1195.1 716.0,1194.9 721.0,1194.8 726.0,1194.7 729.6,1194.6 731.0,1194.6 736.1,1194.4 741.1,1194.3 746.1,1194.1 751.1,1194.0 756.1,1193.8 761.1,1193.6 766.2,1193.4 771.2,1193.2 776.2,1193.0 781.2,1192.7 786.2,1192.5 791.2,1192.3 796.3,1192.0 801.3,1191.8 806.3,1191.5 811.3,1191.2 816.3,1191.0 821.3,1190.7 826.3,1190.4 831.4,1190.1 836.4,1189.8 838.5,1189.7 841.4,1189.5 846.4,1189.2 851.4,1188.9 856.4,1188.6 861.4,1188.2 866.4,1187.9 871.4,1187.5 876.5,1187.1 881.5,1186.7 886.5,1186.3 891.5,1185.9 896.5,1185.4 901.5,1185.0 906.5,1184.5 911.5,1184.0 916.4,1183.4 920.2,1183.0 921.4,1182.9 926.4,1182.2 931.4,1181.6 936.4,1180.9 941.3,1180.1 946.3,1179.3 951.3,1178.4 956.2,1177.5 961.2,1176.5 966.1,1175.4 970.9,1174.3 974.7,1173.4 975.8,1173.1 980.6,1171.7 985.3,1170.1 990.0,1168.4 994.7,1166.5 999.4,1164.7 1000.0,1164.5 1004.1,1162.9 1008.8,1161.1 1013.4,1159.2 1018.1,1157.3 1022.7,1155.4 1027.3,1153.4 1032.0,1151.4 1036.6,1149.5 1041.2,1147.5 1043.6,1146.5 1045.8,1145.6 1050.5,1143.7 1055.1,1141.8 1059.8,1139.9 1064.5,1138.0 1069.1,1136.0 1073.7,1134.1 1078.3,1132.1 1082.9,1130.0 1087.0,1128.0 1087.4,1127.8 1091.8,1125.6 1096.3,1123.2 1100.7,1120.8 1105.1,1118.4 1109.4,1115.9 1113.8,1113.3 1118.1,1110.7 1122.4,1108.0 1126.6,1105.4 1130.7,1102.8 1130.8,1102.7 1135.1,1100.0 1139.2,1097.2 1143.4,1094.4 1147.5,1091.5 1151.6,1088.6 1155.7,1085.6 1159.7,1082.7 1163.4,1080.0 1163.8,1079.7 1167.8,1076.7 1171.7,1073.6 1175.7,1070.4 1179.6,1067.3 1183.5,1064.1 1187.5,1061.1 1191.5,1058.1 1195.6,1055.2 1196.0,1055.0 1199.9,1052.6 1204.5,1050.2 1209.1,1047.9 1213.7,1045.5 1217.9,1043.0 1221.8,1040.2 1222.0,1040.0 1225.2,1037.1 1228.6,1033.8 1231.8,1030.4 1234.9,1026.7 1237.9,1022.9 1240.9,1019.0 1243.7,1014.9 1246.5,1010.7 1249.2,1006.4 1251.8,1002.0 1254.4,997.6 1257.0,993.1 1259.5,988.5 1262.0,984.0 1264.5,979.4 1267.0,974.8 1269.5,970.2 1272.0,965.6 1274.6,961.1 1277.1,956.6 1279.7,952.3 1282.4,947.9 1283.0,947.0 1285.1,943.7 1287.9,939.5 1290.6,935.3 1293.4,931.1 1296.3,926.9 1299.1,922.7 1301.9,918.5 1304.7,914.2 1307.5,910.0 1310.2,905.8 1313.0,901.5 1315.6,897.3 1318.2,893.0 1320.7,888.7 1323.2,884.3 1325.6,879.9 1327.8,875.5 1330.0,871.1 1330.5,870.0 1332.1,866.6 1334.1,862.1 1336.0,857.6 1337.9,853.0 1339.8,848.4 1341.7,843.7 1343.5,839.1 1345.2,834.4 1347.0,829.7 1348.7,825.0 1350.3,820.3 1352.0,815.5 1353.6,810.7 1355.2,806.0 1356.8,801.2 1358.4,796.4 1359.9,791.6 1361.5,786.7 1363.0,781.9 1364.5,777.1 1366.0,772.3 1367.5,767.4 1369.0,762.6 1370.6,757.8 1372.1,753.0 1373.6,748.2 1375.1,743.4 1376.7,738.6 1378.3,733.8 1379.8,729.0 1380.5,727.0 1381.4,724.2 1383.0,719.5 1384.5,714.7 1386.0,709.9 1387.5,705.1 1388.9,700.2 1390.4,695.4 1391.8,690.6 1393.3,685.8 1394.7,680.9 1396.2,676.1 1397.6,671.3 1399.1,666.5 1400.5,661.7 1402.0,656.9 1403.5,652.1 1405.1,647.3 1406.6,642.5 1408.2,637.8 1409.9,633.1 1411.6,628.4 1413.3,623.7 1415.1,619.0 1415.9,617.0 1416.9,614.4 1418.8,609.8 1420.8,605.2 1422.8,600.6 1424.9,596.1 1427.0,591.5 1429.1,587.0 1431.3,582.4 1433.6,577.9 1435.8,573.4 1438.1,568.9 1440.5,564.5 1442.8,560.0 1445.2,555.6 1447.6,551.1 1450.1,546.7 1452.5,542.3 1454.9,537.9 1457.4,533.6 1459.4,530.0 1459.9,529.2 1462.3,524.9 1464.9,520.5 1467.5,516.2 1470.1,511.9 1472.8,507.7 1475.4,503.4 1478.2,499.2 1480.9,495.0 1483.7,490.8 1486.5,486.6 1489.3,482.5 1491.0,480.0 1492.1,478.3 1495.0,474.2 1497.8,470.0 1500.7,465.9 1503.5,461.7 1506.4,457.6 1509.4,453.5 1512.3,449.4 1515.3,445.3 1518.3,441.3 1521.4,437.3 1524.5,433.4 1527.7,429.5 1530.9,425.7 1534.2,422.0 1536.0,420.0 1537.6,418.3 1541.0,414.7 1544.6,411.2 1548.2,407.8 1551.9,404.3 1555.7,401.0 1559.5,397.7 1563.4,394.4 1567.3,391.2 1571.2,388.0 1575.0,385.0 1575.1,384.9 1579.0,381.9 1583.0,378.8 1587.0,375.8 1591.1,372.9 1595.2,370.0 1599.3,367.1 1603.5,364.3 1607.7,361.5 1611.9,358.7 1616.1,355.9 1620.3,353.2 1624.5,350.5 1628.8,347.8 1630.0,347.0 1633.0,345.1 1637.3,342.5 1641.6,339.9 1645.9,337.4 1650.2,334.8 1654.6,332.3 1659.0,329.9 1663.3,327.4 1667.7,324.9 1672.1,322.4 1676.4,319.9 1680.8,317.5 1681.6,317.0 1685.1,314.9 1689.4,312.2 1693.8,309.7 1698.2,307.3 1700.0,306.5 1702.7,305.4 1707.4,303.6 1712.2,302.1 1717.0,300.6 1721.8,299.1 1726.7,297.6 1727.0,297.5 1731.4,296.1 1736.2,294.6 1741.0,293.2 1745.8,291.7 1750.6,290.2 1754.5,289.0 1755.4,288.7 1760.2,287.1 1764.9,285.4 1769.7,283.7 1774.4,282.0 1779.2,280.6 1781.7,280.0 1784.1,279.4 1789.0,278.4 1793.9,277.4 1798.9,276.5 1803.8,275.7 1808.8,275.0 1809.0,275.0 1813.8,274.5 1818.8,274.0 1823.8,273.6 1828.8,273.2 1833.8,272.7 1836.0,272.5 1838.8,272.2 1843.7,271.5 1848.7,270.7 1853.7,269.9 1858.6,269.1 1863.4,268.5 1863.6,268.5 1868.6,267.9 1873.6,267.3 1878.6,266.8 1883.6,266.3 1888.6,265.8 1893.6,265.4 1898.6,264.9 1903.6,264.5 1904.0,264.5 1908.6,264.1 1913.6,263.7 1918.6,263.3 1923.6,263.0 1928.6,262.6 1933.6,262.3 1938.6,262.0 1943.6,261.8 1945.0,261.8 1948.7,261.7 1953.7,261.6 1958.7,261.5 1963.7,261.4 1968.7,261.3 1972.0,261.3 1973.8,261.3 1978.8,261.3 1983.8,261.3 1988.8,261.3 1993.8,261.3 1998.9,261.3 2000.0,261.3 2003.9,261.3 2008.9,261.4 2013.9,261.6 2018.9,261.8 2023.9,262.0 2029.0,262.2 2034.0,262.5 2039.0,262.7 2044.0,262.9 2049.0,263.1 2054.0,263.2 2054.0,263.2 2059.1,263.3 2064.1,263.4 2069.1,263.5 2074.1,263.5 2079.1,263.6 2084.2,263.7 2089.2,263.8 2094.2,263.8 2099.2,263.9 2104.2,263.9 2109.3,264.0 2114.3,264.0 2119.3,264.1 2124.3,264.2 2129.3,264.2 2134.4,264.3 2135.8,264.3 2139.4,264.3 2144.4,264.4 2149.4,264.5 2154.4,264.6 2159.5,264.6 2164.5,264.7 2169.5,264.8 2174.5,264.8 2179.5,264.9 2184.6,265.0 2189.6,265.0 2194.6,265.1 2199.6,265.2 2204.6,265.2 2209.7,265.2 2214.7,265.3 2217.5,265.3 2219.7,265.3 2224.7,265.3 2229.7,265.4 2234.8,265.4 2239.8,265.4 2244.8,265.5 2249.8,265.5 2254.8,265.5 2259.9,265.5 2264.9,265.5 2269.9,265.6 2274.9,265.6 2279.9,265.6 2285.0,265.6 2290.0,265.6 2295.0,265.6"/>
<polyline class="crv" stroke="#000080" points="430.0,1245.0 435.0,1244.7 440.0,1244.4 445.0,1244.1 450.0,1243.8 455.1,1243.5 460.1,1243.2 465.1,1242.8 470.1,1242.5 475.1,1242.2 480.1,1241.8 485.1,1241.5 490.1,1241.1 495.1,1240.8 500.1,1240.4 505.1,1240.0 510.1,1239.6 515.1,1239.3 520.1,1238.9 525.0,1238.5 525.1,1238.5 530.1,1238.1 535.1,1237.7 540.1,1237.3 545.1,1236.8 550.1,1236.4 555.1,1235.9 560.1,1235.5 565.1,1235.0 570.1,1234.5 575.1,1234.1 580.1,1233.6 585.1,1233.1 590.1,1232.6 595.1,1232.2 600.1,1231.7 605.1,1231.2 610.1,1230.8 615.1,1230.3 620.1,1229.8 620.6,1229.8 625.1,1229.4 630.1,1229.0 635.1,1228.5 640.1,1228.1 645.1,1227.7 650.1,1227.3 655.1,1226.9 660.1,1226.5 665.1,1226.1 670.1,1225.7 675.1,1225.2 680.1,1224.8 685.1,1224.4 690.1,1224.0 695.1,1223.5 700.1,1223.1 705.1,1222.7 710.1,1222.2 715.1,1221.7 720.1,1221.3 725.1,1220.8 729.6,1220.3 730.1,1220.3 735.1,1219.7 740.1,1219.2 745.1,1218.7 750.0,1218.1 755.0,1217.6 760.0,1217.0 765.0,1216.5 770.0,1215.9 775.0,1215.3 780.0,1214.7 785.0,1214.1 790.0,1213.5 795.0,1212.9 799.9,1212.2 804.9,1211.6 809.9,1210.9 814.8,1210.2 819.8,1209.5 824.8,1208.7 829.7,1208.0 834.7,1207.2 838.5,1206.6 839.6,1206.4 844.6,1205.6 849.5,1204.7 854.4,1203.9 859.4,1202.9 864.3,1202.0 869.2,1201.0 874.2,1200.0 879.1,1198.9 884.0,1197.9 888.9,1196.7 893.8,1195.6 898.7,1194.4 903.6,1193.2 908.4,1192.0 913.3,1190.7 918.1,1189.5 920.2,1188.9 922.9,1188.1 927.7,1186.7 932.5,1185.3 937.3,1183.7 942.0,1182.1 946.8,1180.4 951.5,1178.7 956.2,1177.0 960.9,1175.2 965.6,1173.4 970.3,1171.6 974.7,1169.9 975.0,1169.8 979.7,1167.9 984.3,1166.0 988.9,1164.0 993.5,1162.0 998.1,1160.0 1000.0,1159.2 1002.7,1158.0 1007.3,1156.0 1011.9,1154.0 1016.5,1152.0 1021.1,1150.0 1025.7,1147.9 1030.3,1145.8 1034.8,1143.7 1039.4,1141.6 1043.6,1139.5 1043.9,1139.4 1048.3,1137.1 1052.8,1134.8 1057.3,1132.5 1061.7,1130.1 1066.1,1127.7 1070.5,1125.2 1074.9,1122.8 1079.2,1120.2 1083.5,1117.6 1087.0,1115.5 1087.8,1115.0 1092.0,1112.4 1096.2,1109.7 1100.4,1106.9 1104.6,1104.1 1108.7,1101.2 1112.8,1098.3 1116.9,1095.4 1121.0,1092.5 1125.0,1089.4 1129.0,1086.4 1130.7,1085.1 1132.9,1083.3 1136.8,1080.2 1140.7,1077.0 1144.5,1073.7 1148.2,1070.4 1152.0,1067.0 1155.8,1063.7 1159.5,1060.4 1163.3,1057.1 1163.4,1057.0 1167.2,1053.8 1171.1,1050.6 1175.0,1047.4 1178.8,1044.1 1182.4,1040.7 1183.0,1040.0 1185.7,1037.1 1188.9,1033.4 1192.1,1029.6 1195.2,1025.7 1198.2,1021.8 1201.2,1017.8 1204.1,1013.7 1207.0,1009.6 1209.8,1005.5 1212.6,1001.2 1215.3,997.0 1218.1,992.7 1220.8,988.4 1223.5,984.1 1226.1,979.8 1228.8,975.5 1231.5,971.2 1234.2,966.9 1236.9,962.6 1239.6,958.3 1242.3,954.1 1245.1,949.9 1247.0,947.0 1247.9,945.7 1250.7,941.5 1253.6,937.4 1256.5,933.3 1259.4,929.2 1262.3,925.0 1265.2,920.9 1268.1,916.8 1271.0,912.7 1273.9,908.5 1276.7,904.4 1279.5,900.2 1282.3,896.0 1285.1,891.8 1287.7,887.6 1290.4,883.3 1292.9,879.1 1295.4,874.7 1297.8,870.4 1298.0,870.0 1300.1,866.0 1302.4,861.6 1304.7,857.2 1306.9,852.7 1309.1,848.2 1311.3,843.8 1313.4,839.2 1315.5,834.7 1317.6,830.1 1319.7,825.6 1321.7,821.0 1323.7,816.4 1325.7,811.7 1327.7,807.1 1329.6,802.5 1331.6,797.8 1333.5,793.2 1335.4,788.5 1337.3,783.8 1339.2,779.1 1341.1,774.4 1342.9,769.8 1344.8,765.1 1346.6,760.4 1348.5,755.7 1350.3,751.0 1352.2,746.3 1354.0,741.6 1355.9,736.9 1357.7,732.3 1359.6,727.6 1359.8,727.0 1361.4,723.0 1363.2,718.3 1365.0,713.6 1366.7,708.9 1368.5,704.2 1370.2,699.4 1371.9,694.7 1373.5,690.0 1375.2,685.2 1376.9,680.5 1378.5,675.7 1380.2,671.0 1381.9,666.3 1383.6,661.5 1385.2,656.8 1387.0,652.1 1388.7,647.3 1390.4,642.6 1392.2,638.0 1394.0,633.3 1395.8,628.6 1397.7,624.0 1399.6,619.4 1400.6,617.0 1401.6,614.7 1403.5,610.1 1405.5,605.5 1407.5,600.9 1409.5,596.2 1411.5,591.6 1413.6,587.0 1415.6,582.4 1417.7,577.8 1419.9,573.2 1422.0,568.6 1424.2,564.1 1426.5,559.6 1428.8,555.1 1431.1,550.6 1433.5,546.2 1435.9,541.9 1438.4,537.6 1440.9,533.3 1443.0,530.0 1443.5,529.1 1446.3,525.0 1449.1,521.0 1452.1,517.0 1455.2,513.0 1458.4,509.1 1461.6,505.3 1464.9,501.4 1468.2,497.6 1471.5,493.8 1474.8,489.9 1478.0,486.1 1481.3,482.2 1483.0,480.0 1484.4,478.2 1487.5,474.3 1490.5,470.3 1493.6,466.3 1496.6,462.2 1499.6,458.2 1502.7,454.2 1505.7,450.2 1508.8,446.1 1511.8,442.2 1515.0,438.2 1518.1,434.3 1521.3,430.5 1524.6,426.7 1527.9,423.0 1530.7,420.0 1531.3,419.4 1534.8,415.8 1538.4,412.3 1542.0,408.9 1545.8,405.5 1549.5,402.2 1553.4,398.9 1557.2,395.6 1561.1,392.4 1561.8,391.8 1564.9,389.2 1568.8,386.1 1572.8,383.0 1576.7,379.9 1580.7,376.9 1584.8,373.9 1588.8,370.9 1592.9,368.0 1597.0,365.0 1601.0,362.1 1605.1,359.2 1605.4,359.0 1609.2,356.3 1613.3,353.4 1617.5,350.6 1621.6,347.7 1625.8,344.9 1629.9,342.1 1634.1,339.3 1638.3,336.6 1642.5,333.8 1646.7,331.1 1649.0,329.7 1651.0,328.4 1655.2,325.8 1659.5,323.1 1663.8,320.5 1668.1,317.9 1672.4,315.3 1676.7,312.7 1681.0,310.2 1685.3,307.7 1689.7,305.1 1692.5,303.5 1694.0,302.6 1698.4,300.1 1700.0,299.3 1702.9,297.9 1707.4,295.8 1712.0,293.8 1716.6,291.8 1721.2,289.9 1725.9,288.0 1730.6,286.2 1735.3,284.3 1739.9,282.5 1744.6,280.6 1749.2,278.6 1753.8,276.5 1754.5,276.2 1758.3,274.4 1762.8,272.2 1767.3,270.0 1771.8,267.7 1776.3,265.4 1780.7,263.1 1781.7,262.6 1785.2,260.8 1789.6,258.4 1794.0,256.0 1798.4,253.6 1802.0,251.7 1802.8,251.2 1807.2,248.1 1811.5,245.5 1814.4,244.9 1816.2,244.9 1821.1,245.0 1826.1,245.2 1831.3,245.4 1836.0,245.5 1836.3,245.5 1841.4,245.7 1846.4,245.8 1851.4,246.0 1856.5,246.1 1861.4,246.2 1863.4,246.2 1866.4,246.0 1871.3,245.2 1876.1,243.9 1881.0,242.3 1885.8,240.7 1890.7,239.4 1890.7,239.4 1895.6,238.3 1900.5,237.3 1905.4,236.3 1910.4,235.3 1915.3,234.5 1918.0,234.0 1920.2,233.6 1925.2,232.9 1930.2,232.1 1935.1,231.4 1940.1,230.8 1945.1,230.1 1950.1,229.5 1955.1,228.9 1958.7,228.5 1960.0,228.4 1965.0,227.8 1970.0,227.4 1975.0,226.9 1980.0,226.5 1985.0,226.1 1990.0,225.6 1995.0,225.1 2000.0,224.6 2000.0,224.6 2005.0,224.0 2010.0,223.4 2014.9,222.7 2019.9,222.0 2024.9,221.2 2029.9,220.5 2034.8,219.9 2039.8,219.2 2043.6,218.8 2044.8,218.7 2049.8,218.2 2054.8,217.7 2059.8,217.2 2064.8,216.8 2069.8,216.3 2074.8,215.9 2079.8,215.5 2084.8,215.1 2089.8,214.6 2094.8,214.2 2099.8,213.7 2101.7,213.5 2104.8,213.2 2109.8,212.6 2114.7,212.0 2119.7,211.4 2124.7,210.8 2129.7,210.2 2134.7,209.6 2139.7,209.0 2144.6,208.4 2149.6,207.9 2154.6,207.4 2159.6,207.0 2160.0,207.0 2164.6,206.7 2169.6,206.3 2174.6,206.0 2179.6,205.7 2184.7,205.4 2189.7,205.1 2194.7,204.8 2199.7,204.6 2204.7,204.4 2209.7,204.1 2214.7,203.9 2218.0,203.8 2219.8,203.7 2224.8,203.5 2229.8,203.3 2234.8,203.2 2239.8,203.0 2244.8,202.8 2249.8,202.6 2254.9,202.5 2259.9,202.3 2264.9,202.2 2269.9,202.0 2274.9,201.9 2279.9,201.8 2285.0,201.7 2290.0,201.6 2295.0,201.5"/>
<polyline class="crv" stroke="#000080" points="430.0,1248.0 435.0,1247.7 440.0,1247.4 445.0,1247.1 450.0,1246.8 455.1,1246.5 460.1,1246.2 465.1,1245.8 470.1,1245.5 475.1,1245.2 480.1,1244.8 485.1,1244.5 490.1,1244.1 495.1,1243.8 500.1,1243.4 505.1,1243.0 510.1,1242.6 515.2,1242.3 520.2,1241.9 525.0,1241.5 525.2,1241.5 530.2,1241.1 535.2,1240.7 540.2,1240.3 545.2,1239.8 550.2,1239.4 555.2,1238.9 560.2,1238.5 565.2,1238.0 570.2,1237.5 575.2,1237.1 580.2,1236.6 585.2,1236.1 590.2,1235.6 595.2,1235.2 600.2,1234.7 605.2,1234.2 610.1,1233.7 615.1,1233.3 620.1,1232.8 620.6,1232.8 625.1,1232.4 630.2,1232.0 635.2,1231.5 640.2,1231.1 645.2,1230.7 650.2,1230.3 655.2,1229.9 660.2,1229.5 665.2,1229.1 670.2,1228.6 675.2,1228.2 680.2,1227.8 685.2,1227.4 690.2,1227.0 695.2,1226.5 700.2,1226.1 705.2,1225.7 710.2,1225.2 715.2,1224.7 720.2,1224.2 725.2,1223.7 729.6,1223.3 730.2,1223.2 735.2,1222.7 740.2,1222.2 745.2,1221.7 750.1,1221.1 755.1,1220.6 760.1,1220.0 765.1,1219.5 770.1,1218.9 775.1,1218.3 780.1,1217.7 785.1,1217.1 790.1,1216.5 795.1,1215.9 800.0,1215.2 805.0,1214.5 810.0,1213.9 815.0,1213.2 819.9,1212.4 824.9,1211.7 829.8,1211.0 834.8,1210.2 838.5,1209.6 839.7,1209.4 844.7,1208.6 849.6,1207.7 854.6,1206.8 859.5,1205.9 864.5,1205.0 869.4,1204.0 874.3,1202.9 879.2,1201.9 884.2,1200.8 889.1,1199.7 894.0,1198.6 898.8,1197.4 903.7,1196.2 908.6,1195.0 913.4,1193.7 918.3,1192.4 920.2,1191.9 923.1,1191.1 927.9,1189.7 932.7,1188.2 937.4,1186.7 942.2,1185.0 946.9,1183.4 951.7,1181.7 956.4,1179.9 961.1,1178.1 965.8,1176.3 970.5,1174.5 974.7,1172.9 975.2,1172.7 979.8,1170.9 984.5,1168.9 989.1,1167.0 993.7,1165.0 998.3,1162.9 1000.0,1162.2 1002.9,1160.9 1007.5,1158.9 1012.1,1156.9 1016.7,1154.9 1021.3,1152.9 1025.9,1150.8 1030.5,1148.8 1035.0,1146.6 1039.5,1144.5 1043.6,1142.5 1044.0,1142.3 1048.5,1140.0 1053.0,1137.7 1057.4,1135.4 1061.9,1133.0 1066.3,1130.6 1070.7,1128.1 1075.0,1125.6 1079.4,1123.1 1083.7,1120.5 1087.0,1118.5 1087.9,1117.9 1092.1,1115.2 1096.3,1112.4 1100.4,1109.6 1104.5,1106.6 1108.6,1103.7 1112.7,1100.7 1116.7,1097.8 1120.8,1094.9 1124.9,1092.0 1129.1,1089.2 1130.7,1088.1 1133.3,1086.4 1137.5,1083.8 1141.8,1081.1 1146.1,1078.5 1150.4,1075.9 1154.6,1073.2 1155.0,1073.0 1158.9,1070.5 1163.1,1067.9 1167.4,1065.2 1171.6,1062.5 1175.8,1059.7 1180.0,1057.0 1180.0,1057.0 1184.3,1054.3 1188.6,1051.6 1193.0,1048.9 1197.2,1046.1 1201.2,1043.2 1204.9,1040.1 1205.0,1040.0 1208.4,1036.8 1211.8,1033.3 1215.1,1029.7 1218.3,1026.0 1221.4,1022.2 1224.4,1018.3 1227.4,1014.3 1230.3,1010.2 1233.2,1006.1 1236.0,1001.9 1238.8,997.6 1241.5,993.3 1244.2,988.9 1246.9,984.5 1249.6,980.1 1252.2,975.7 1254.9,971.3 1257.5,966.9 1260.2,962.5 1262.9,958.2 1265.6,953.9 1268.3,949.6 1270.0,947.0 1271.1,945.4 1273.8,941.2 1276.6,937.0 1279.4,932.8 1282.2,928.7 1285.0,924.5 1287.8,920.3 1290.6,916.1 1293.4,911.8 1296.1,907.6 1298.9,903.4 1301.5,899.1 1304.2,894.8 1306.7,890.5 1309.3,886.2 1311.7,881.8 1314.1,877.5 1316.4,873.1 1318.0,870.0 1318.7,868.6 1320.9,864.2 1323.0,859.7 1325.1,855.2 1327.1,850.6 1329.2,846.1 1331.1,841.5 1333.1,836.9 1335.0,832.3 1336.9,827.6 1338.8,823.0 1340.6,818.3 1342.4,813.6 1344.2,808.9 1346.0,804.2 1347.8,799.5 1349.5,794.7 1351.3,790.0 1353.0,785.3 1354.7,780.5 1356.5,775.8 1358.2,771.1 1360.0,766.3 1361.7,761.6 1363.5,756.9 1365.2,752.1 1367.0,747.4 1368.8,742.7 1370.6,738.0 1372.5,733.3 1374.3,728.7 1375.0,727.0 1376.2,724.0 1378.1,719.4 1379.9,714.7 1381.8,710.0 1383.6,705.3 1385.5,700.7 1387.3,696.0 1389.1,691.3 1391.0,686.6 1392.8,681.9 1394.7,677.3 1396.5,672.6 1398.4,667.9 1400.2,663.3 1402.1,658.6 1404.0,654.0 1405.9,649.3 1407.9,644.7 1409.8,640.1 1411.8,635.5 1413.8,630.9 1415.8,626.3 1417.9,621.7 1419.9,617.2 1420.0,617.0 1422.0,612.6 1424.2,608.1 1426.3,603.5 1428.5,599.0 1430.7,594.5 1432.9,590.0 1435.1,585.5 1437.4,581.0 1439.6,576.5 1441.9,572.0 1444.3,567.5 1446.6,563.1 1449.0,558.7 1451.4,554.2 1453.8,549.8 1456.2,545.4 1458.7,541.1 1461.1,536.7 1463.6,532.4 1465.0,530.0 1466.2,528.0 1468.7,523.7 1471.3,519.5 1474.0,515.2 1476.7,511.0 1479.4,506.8 1482.2,502.6 1485.0,498.4 1487.8,494.2 1490.6,490.0 1493.4,485.9 1496.3,481.8 1497.5,480.0 1499.1,477.6 1502.0,473.5 1504.8,469.3 1507.6,465.1 1510.5,461.0 1513.4,456.8 1516.2,452.7 1519.1,448.5 1522.1,444.4 1525.1,440.4 1528.1,436.4 1531.2,432.4 1534.3,428.5 1537.5,424.7 1540.7,421.0 1541.6,420.0 1544.1,417.3 1547.6,413.7 1551.2,410.2 1554.9,406.8 1558.6,403.4 1562.4,400.0 1566.0,396.8 1566.1,396.7 1569.9,393.4 1573.7,390.1 1577.5,386.8 1581.3,383.6 1585.2,380.3 1589.1,377.2 1593.0,374.0 1597.0,370.9 1600.9,367.9 1604.9,364.8 1605.4,364.5 1609.0,361.9 1613.0,358.9 1617.1,356.1 1621.3,353.2 1625.4,350.4 1629.6,347.6 1633.8,344.8 1638.0,342.1 1642.2,339.3 1646.5,336.6 1649.0,335.0 1650.7,333.9 1655.0,331.3 1659.3,328.7 1663.6,326.1 1667.9,323.6 1672.3,321.1 1676.6,318.5 1680.9,315.9 1685.2,313.3 1689.4,310.6 1692.5,308.5 1693.5,307.8 1697.5,304.7 1700.0,303.0 1701.7,302.0 1706.1,299.7 1710.6,297.6 1715.2,295.6 1719.8,293.7 1724.5,291.9 1729.3,290.2 1734.0,288.4 1738.8,286.7 1743.5,284.9 1748.3,283.1 1752.9,281.2 1754.5,280.5 1757.5,279.1 1762.0,277.0 1766.6,274.7 1771.1,272.5 1775.6,270.4 1780.3,268.5 1781.7,268.0 1785.0,266.9 1789.8,265.5 1794.7,264.2 1795.3,264.0 1799.5,262.7 1804.3,261.1 1809.0,259.8 1809.1,259.8 1814.0,258.7 1818.9,257.7 1823.8,256.8 1828.8,255.9 1833.7,254.9 1836.0,254.4 1838.6,253.7 1843.4,252.2 1848.2,250.7 1849.8,250.3 1853.0,249.6 1858.0,248.6 1862.9,247.7 1863.4,247.6 1867.8,246.7 1872.7,245.6 1877.6,244.6 1882.6,243.5 1887.5,242.6 1890.7,242.0 1892.4,241.7 1897.4,240.9 1902.3,240.1 1907.3,239.3 1912.3,238.7 1917.3,238.1 1918.0,238.0 1922.3,237.6 1927.2,237.1 1932.2,236.6 1937.2,236.2 1942.3,235.8 1947.3,235.4 1952.3,235.0 1957.3,234.7 1962.3,234.4 1967.3,234.2 1972.3,234.0 1972.4,234.0 1977.4,233.8 1982.4,233.6 1987.4,233.5 1992.4,233.3 1997.4,233.2 2002.5,233.1 2007.5,233.0 2012.5,233.0 2013.2,233.0 2017.5,233.2 2022.5,233.7 2027.5,234.4 2032.5,235.3 2037.5,236.2 2042.4,236.9 2047.4,237.4 2050.8,237.5 2052.4,237.5 2057.3,237.1 2062.2,236.3 2067.2,235.3 2072.1,234.1 2077.0,232.8 2081.9,231.5 2086.8,230.2 2087.0,230.2 2091.7,229.1 2096.5,227.9 2101.4,226.6 2106.2,225.3 2111.1,223.9 2115.9,222.6 2120.8,221.3 2125.6,219.9 2130.5,218.7 2130.7,218.6 2135.3,217.4 2140.2,216.0 2145.0,214.6 2149.9,213.3 2154.8,212.2 2159.7,211.3 2160.0,211.3 2164.6,210.7 2169.6,210.1 2174.6,209.6 2179.6,209.1 2184.6,208.6 2189.6,208.2 2194.6,207.8 2199.6,207.5 2204.7,207.2 2209.7,206.9 2214.7,206.6 2218.0,206.5 2219.7,206.4 2224.7,206.2 2229.7,206.0 2234.8,205.8 2239.8,205.7 2244.8,205.5 2249.8,205.3 2254.8,205.2 2259.8,205.0 2264.9,204.9 2269.9,204.8 2274.9,204.7 2279.9,204.6 2284.9,204.5 2290.0,204.5 2295.0,204.5"/>
</g>
<g filter="url(#soft)">
<rect x="433" y="45" width="6" height="1364" fill="#0c0c0c"/>
<rect x="418" y="1409.4" width="1872" height="3" fill="#d8d8d8"/>
<rect x="418" y="1403.8" width="1872" height="5.8" fill="#0c0c0c"/>
<rect x="418" y="43.6" width="18" height="5.8" fill="#0c0c0c"/>
<rect x="406" y="270.1" width="30" height="5.8" fill="#0c0c0c"/>
<rect x="418" y="497.1" width="18" height="5.8" fill="#0c0c0c"/>
<rect x="406" y="724.1" width="30" height="5.8" fill="#0c0c0c"/>
<rect x="418" y="951.1" width="18" height="5.8" fill="#0c0c0c"/>
<rect x="406" y="1178.1" width="30" height="5.8" fill="#0c0c0c"/>
<rect x="516.8" y="1406" width="5.8" height="31" fill="#0c0c0c"/>
<rect x="727.2" y="1406" width="5.8" height="18" fill="#0c0c0c"/>
<rect x="937.6" y="1406" width="5.8" height="31" fill="#0c0c0c"/>
<rect x="1148.0" y="1406" width="5.8" height="18" fill="#0c0c0c"/>
<rect x="1358.4" y="1406" width="5.8" height="31" fill="#0c0c0c"/>
<rect x="1568.8" y="1406" width="5.8" height="18" fill="#0c0c0c"/>
<rect x="1779.2" y="1406" width="5.8" height="31" fill="#0c0c0c"/>
<rect x="1989.6" y="1406" width="5.8" height="18" fill="#0c0c0c"/>
<rect x="2200.0" y="1406" width="5.8" height="31" fill="#0c0c0c"/>
</g>
<g filter="url(#soft)">
<text class="tick" transform="translate(389.0,295.8) scale(1,1.02)" text-anchor="end">1000</text>
<text class="tick" transform="translate(389.0,749.8) scale(1,1.02)" text-anchor="end">0</text>
<text class="tick" transform="translate(389.0,1203.8) scale(1,1.02)" text-anchor="end">-1000</text>
<text class="tick" transform="translate(517.7,1521.0) scale(1,1.02)" text-anchor="middle">-1.0</text>
<text class="tick" transform="translate(938.5,1521.0) scale(1,1.02)" text-anchor="middle">-0.5</text>
<text class="tick" transform="translate(1361.3,1521.0) scale(1,1.02)" text-anchor="middle">0.0</text>
<text class="tick" transform="translate(1782.1,1521.0) scale(1,1.02)" text-anchor="middle">0.5</text>
<text class="tick" transform="translate(2202.9,1521.0) scale(1,1.02)" text-anchor="middle">1.0</text>
<rect x="198.0" y="283.3" width="44.0" height="15.9" fill="#fefefe"/>
<rect x="215.4" y="278.8" width="10.0" height="17.4" fill="#000"/>
<rect x="198.0" y="1191.3" width="44.0" height="15.9" fill="#fefefe"/>
<rect x="215.4" y="1186.8" width="10.0" height="17.4" fill="#000"/>
<rect x="475.0" y="1508.5" width="44.0" height="15.9" fill="#fefefe"/>
<rect x="492.4" y="1504.0" width="10.0" height="17.4" fill="#000"/>
<rect x="2145.4" y="1508.5" width="44.0" height="15.9" fill="#fefefe"/>
<rect x="2162.8" y="1504.0" width="10.0" height="17.4" fill="#000"/>
<text class="ttl" transform="translate(1363.0,1672.0) scale(1,0.98)" text-anchor="middle">H (kOe)</text>
<text class="ttl" transform="translate(100.5,791.0) rotate(-90) scale(1,0.98)" text-anchor="middle">ellipticity (deg/cm)</text>
<rect x="644" y="105.2" width="198" height="6.8" fill="#ff0000"/>
<text class="leg" transform="translate(859.6,137.0) scale(1,1.02)" text-anchor="start">400nm</text>
<rect x="644" y="209.9" width="198" height="6.8" fill="#0000ff"/>
<text class="leg" transform="translate(859.6,241.7) scale(1,1.02)" text-anchor="start">440nm</text>
<rect x="644" y="314.6" width="198" height="6.8" fill="#008080"/>
<text class="leg" transform="translate(859.6,346.4) scale(1,1.02)" text-anchor="start">470nm</text>
<rect x="644" y="419.3" width="198" height="6.8" fill="#ff00ff"/>
<text class="leg" transform="translate(859.6,451.1) scale(1,1.02)" text-anchor="start">600nm</text>
<rect x="644" y="524.0" width="198" height="6.8" fill="#808000"/>
<text class="leg" transform="translate(859.6,555.8) scale(1,1.02)" text-anchor="start">650nm</text>
<rect x="644" y="628.7" width="198" height="6.8" fill="#000080"/>
<text class="leg" transform="translate(859.6,660.5) scale(1,1.02)" text-anchor="start">825nm</text>
</g>
</svg>
</body>
</html>
